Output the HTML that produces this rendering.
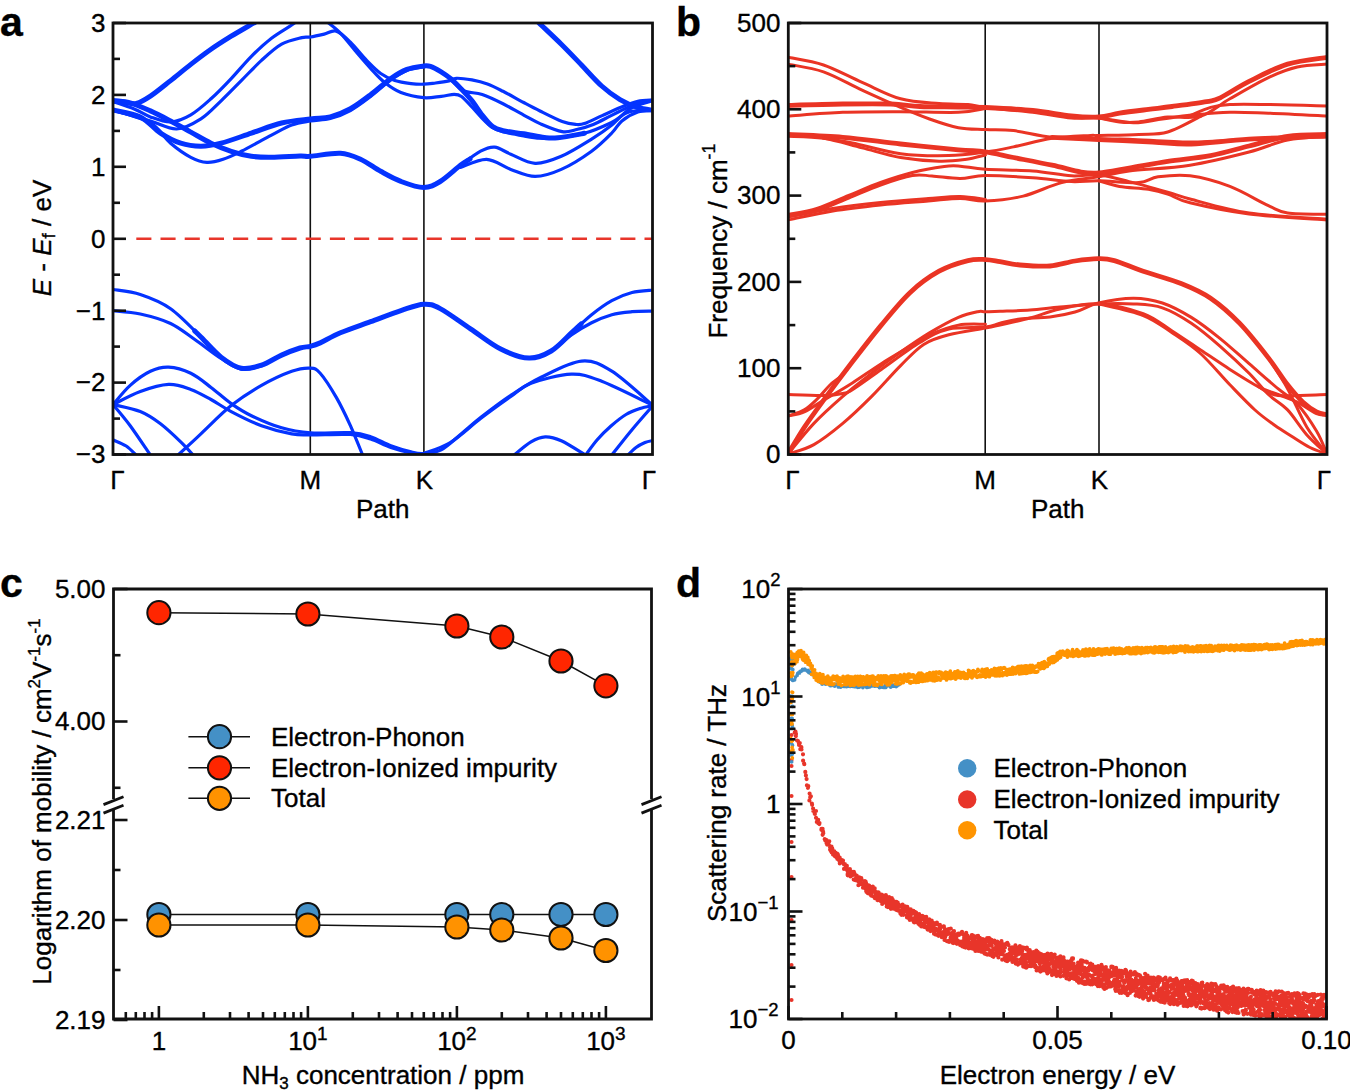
<!DOCTYPE html><html><head><meta charset="utf-8"><style>html,body{margin:0;padding:0;background:#fff}svg{display:block}text{font-family:"Liberation Sans",sans-serif;fill:#000;stroke:#000;stroke-width:0.35px}</style></head><body>
<svg width="1350" height="1090" viewBox="0 0 1350 1090">
<rect width="1350" height="1090" fill="#fff"/>
<clipPath id="ca"><rect x="113" y="23" width="539.5" height="431.5"/></clipPath>
<line x1="310.3" y1="23" x2="310.3" y2="454.5" stroke="#111" stroke-width="1.6"/>
<line x1="423.9" y1="23" x2="423.9" y2="454.5" stroke="#111" stroke-width="1.6"/>
<line x1="136.3" y1="238.8" x2="652.5" y2="238.8" stroke="#e8352a" stroke-width="2.6" stroke-dasharray="15.1,9.1"/>
<g clip-path="url(#ca)" fill="none" stroke="#0433ff" stroke-linecap="round" stroke-linejoin="round">
<path d="M113 100.8 C114.8 101 120.1 101.5 124 102 C127.9 102.5 131.9 104.5 136.3 103.5 C140.7 102.5 144.7 100 150.4 96.2 C156.1 92.4 163.9 85.9 170.6 80.6 C177.3 75.3 184.1 69.6 190.8 64.4 C197.5 59.2 204.3 54 211 49.3 C217.7 44.6 223.8 40.8 231.2 36.2 C238.6 31.7 251.4 24.4 255.4 22" stroke-width="5.0"/>
<path d="M113 101.5 C116.5 102.7 128 106.3 134.2 108.9 C140.4 111.5 144.3 114.7 150.4 116.9 C156.5 119.1 163.9 122.3 170.6 122 C177.3 121.7 184.1 118.8 190.8 114.9 C197.5 111 204.3 104.8 211 98.8 C217.7 92.8 224.5 85.7 231.2 78.6 C237.9 71.5 244.7 63 251.4 56.3 C258.1 49.6 264.8 43.4 271.5 38.2 C278.2 33 287.4 27.9 291.7 25 C295.9 22.1 296.1 21.7 297 21" stroke-width="3.2"/>
<path d="M113 110 C119.2 111.8 139.8 117.8 150.4 121 C161 124.2 168.2 129.3 176.6 129 C185 128.7 193.5 123.6 200.9 118.9 C208.3 114.2 214.4 107.2 221.1 100.8 C227.8 94.4 234.6 87.3 241.3 80.6 C248 73.9 254.8 66.5 261.5 60.4 C268.2 54.3 274.9 48 281.6 44.2 C288.3 40.4 297 38.8 301.8 37.6 C306.6 36.4 306.8 37.6 310.5 37 C314.2 36.4 319.9 35.1 324.2 34.1 C328.5 33.1 331.9 29.8 336.3 31.1 C340.7 32.5 345.3 37.3 350.4 42.2 C355.4 47.1 361.6 55.2 366.6 60.4 C371.7 65.6 376 70.2 380.7 73.5 C385.4 76.8 389.8 78.8 394.8 80.5 C399.9 82.2 406.2 83 411 83.6 C415.8 84.2 419.6 84.3 423.7 84.2 C427.8 84.1 431.4 83.5 435.6 83 C439.8 82.5 445.6 81.7 449 80.9 C452.4 80.1 452.5 78.5 456.3 78.3 C460.1 78.1 466.7 79 471.9 79.9 C477.1 80.9 482.2 82.1 487.4 84 C492.6 85.9 496.9 88.2 503 91.3 C509.1 94.4 517.5 99.2 523.7 102.5 C529.9 105.8 533.6 107.8 540 111 C546.4 114.2 556.3 119.3 562.2 121.5 C568.1 123.7 571.9 124.1 575.6 124.4 C579.3 124.8 580 125.1 584.4 123.6 C588.8 122.1 595.5 118.6 602.2 115.6 C608.9 112.6 618.5 108.2 624.4 105.8 C630.3 103.4 633 102.3 637.8 101.3 C642.6 100.3 650.5 100.2 653 100" stroke-width="3.2"/>
<path d="M326 21 C328.4 23 335.3 27.9 340.4 33.1 C345.5 38.3 351.5 46.4 356.5 52.3 C361.5 58.2 365.9 63.4 370.6 68.4 C375.3 73.5 379.6 78.6 384.7 82.6 C389.8 86.6 394.4 90.1 400.9 92.6 C407.4 95.1 417 97.1 423.7 97.7 C430.4 98.3 436.1 96.8 441.2 96.3 C446.3 95.8 450.8 94.4 454.2 94.4 C457.6 94.4 458.6 94.4 461.5 96.5 C464.4 98.6 468.4 103.3 471.9 106.9 C475.3 110.5 478.8 114.8 482.2 118.3 C485.6 121.8 489.1 125.4 492.6 127.6 C496.1 129.8 497.8 130.3 503 131.7 C508.2 133.1 517.5 134.8 523.7 135.9 C529.9 137 534.3 137.9 540 138.2 C545.7 138.5 550.4 138.6 557.8 137.8 C565.2 137 575.5 135.8 584.4 133.3 C593.3 130.8 603.7 126.2 611.1 122.7 C618.5 119.2 621.9 114.2 628.9 112 C635.9 109.8 649 110.2 653 109.8" stroke-width="3.2"/>
<path d="M113 100.8 C115.9 101.1 124 101.1 130.2 102.8 C136.4 104.5 143.7 107.9 150.4 110.9 C157.1 113.9 163.9 117.5 170.6 121 C177.3 124.5 184.1 128.4 190.8 132.1 C197.5 135.8 204.3 140 211 143.2 C217.7 146.4 224.5 149.1 231.2 151.3 C237.9 153.5 244.7 155.3 251.4 156.3 C258.1 157.3 263.4 157.4 271.5 157.3 C279.6 157.2 293.5 156.2 300 156 C306.5 155.8 303.8 156.8 310.5 156.3 C317.2 155.8 332.1 152.7 340.4 153.2 C348.7 153.7 353.8 156.2 360.5 159.2 C367.2 162.2 374 167.6 380.7 171.3 C387.4 175 393.7 178.7 400.9 181.4 C408.1 184.1 417.1 187.5 423.7 187.5 C430.2 187.5 434.1 185.2 440.2 181.5 C446.3 177.8 455.4 169.1 460.4 165.3 C465.4 161.6 468.4 160.1 470 159" stroke-width="5.0"/>
<path d="M460.4 165.3 C463.8 163 474.9 154.2 480.6 151.2 C486.3 148.2 489.7 146.7 494.7 147.2 C499.7 147.7 504.1 151.5 510.8 154.2 C517.5 156.9 526.7 163 535.1 163.3 C543.5 163.7 551.9 160.3 561.3 156.3 C570.7 152.3 583.2 144.3 591.6 139.1 C600 133.9 605.4 130.1 611.8 125 C618.2 120 623 112.9 629.9 108.8 C636.8 104.7 649.1 101.9 653 100.5" stroke-width="3.2"/>
<path d="M460.4 167.4 C464.8 166.1 478.2 159 486.6 159.3 C495 159.6 502.7 166.6 510.8 169.4 C518.9 172.2 526.7 176.4 535.1 176.4 C543.5 176.4 551.9 173.6 561.3 169.4 C570.7 165.2 583.2 157.3 591.6 151.2 C600 145.1 606.8 138.1 611.8 133 C616.8 128 617.6 124.4 621.9 120.9 C626.2 117.4 632.6 113.7 637.8 112 C643 110.3 650.5 110.8 653 110.5" stroke-width="3.2"/>
<path d="M113 110 C117.5 111.2 132.4 113.1 140.3 116.9 C148.2 120.8 153.8 128.7 160.5 133.1 C167.2 137.5 174 141 180.7 143.2 C187.4 145.4 194.2 146.2 200.9 146.2 C207.6 146.2 212.7 145.4 221.1 143.2 C229.5 141 241.3 136.5 251.4 133.1 C261.5 129.7 271.8 125.4 281.6 123 C291.5 120.6 302.4 119.9 310.5 118.9 C318.6 117.9 323.7 118.6 330.3 116.9 C336.9 115.2 343.7 112.5 350.4 108.8 C357.1 105.1 363.9 99.8 370.6 94.7 C377.3 89.7 384.8 82.7 390.8 78.5 C396.9 74.3 401.4 71.5 406.9 69.4 C412.4 67.3 419.8 66.5 423.7 66 C427.6 65.5 427.6 65.5 430.4 66.4 C433.2 67.3 437.2 69.5 440.7 71.6 C444.1 73.7 447.6 76 451.1 78.9 C454.6 81.8 458 85.6 461.5 89.2 C465 92.8 468.4 96.3 471.9 100.6 C475.3 104.9 478.8 110.8 482.2 115.1 C485.6 119.4 489.1 124 492.6 126.6 C496.1 129.2 497.8 129.5 503 130.7 C508.2 131.9 516.8 132.7 523.7 133.8 C530.6 134.9 538.7 136.8 544.4 137.5 C550.1 138.2 551.1 138.5 557.8 137.8 C564.5 137.1 580 134.1 584.4 133.3" stroke-width="5.0"/>
<path d="M113 110 C119.2 112.2 140.8 117.5 150.4 123 C160 128.5 163.9 137.5 170.6 143.2 C177.3 148.9 184.8 154.1 190.8 157.3 C196.9 160.5 201.5 162.1 206.9 162.4 C212.3 162.7 217.4 161.2 223.1 159.3 C228.8 157.5 233.2 155.3 241.3 151.3 C249.4 147.3 263.1 139.5 271.5 135.1 C279.9 130.7 285.2 127.3 291.7 125 C298.2 122.7 304.1 122.1 310.5 121 C316.9 119.9 323.7 120.2 330.3 118.5 C336.9 116.8 343.7 114.2 350.4 110.5 C357.1 106.8 363.9 101.6 370.6 96.5 C377.3 91.4 384.8 84.3 390.8 80 C396.9 75.7 401.4 72.7 406.9 70.5 C412.4 68.3 420.9 67.6 423.7 67" stroke-width="3.2"/>
<path d="M451 80 C453.1 81.8 458.4 88.4 463.6 90.8 C468.8 93.2 475.6 92.2 482.2 94.4 C488.8 96.6 496.1 100.2 503 103.7 C509.9 107.2 517.5 111.8 523.7 115.1 C529.9 118.4 533.6 120.8 540 123.6 C546.4 126.3 556.3 130.6 562.2 131.6 C568.1 132.6 570.4 131 575.6 129.8 C580.8 128.6 587.4 126.8 593.3 124.4 C599.2 122 605.2 118.5 611.1 115.6 C617 112.6 624.5 108.8 628.9 106.7 C633.3 104.6 633.8 104.2 637.8 103.1 C641.8 102 650.5 100.5 653 100" stroke-width="3.2"/>
<path d="M537 21 C541 24.9 553.9 36.9 561.3 44.2 C568.7 51.5 574.8 58 581.5 65 C588.2 72 595.3 80.2 601.7 86 C608.1 91.8 614 96 620 99.6 C626 103.2 632.3 105.7 637.8 107.5 C643.3 109.3 650.5 109.8 653 110.2" stroke-width="5.0"/>
<path d="M113 289.5 C117.5 290.3 130.7 291.3 140.3 294.5 C149.9 297.7 160.5 301.6 170.6 308.7 C180.7 315.8 194.2 330.5 200.9 336.9 C207.6 343.3 209.3 345.3 211 347" stroke-width="3.2"/>
<path d="M194.8 331 C195.8 332 196.5 332.5 200.9 336.9 C205.3 341.2 214.4 351.9 221.1 357.1 C227.8 362.3 234.6 366.9 241.3 368.2 C248 369.5 254.8 367.4 261.5 365.2 C268.2 363 275.2 358 281.6 355.1 C288 352.2 295.2 349.5 300 348 C304.8 346.5 307.1 347.2 310.5 346.3 C313.9 345.4 315.2 345.1 320.2 342.9 C325.2 340.6 332 336.3 340.4 332.8 C348.8 329.3 360.5 325.4 370.6 321.7 C380.7 318 392 313.5 400.9 310.6 C409.8 307.7 417.1 304.5 423.7 304.2 C430.2 303.9 432.4 304.5 440.2 308.6 C448 312.7 460.4 322.1 470.5 328.8 C480.6 335.5 490.9 344.1 500.7 349 C510.4 353.9 520.6 357.8 529 358.1 C537.4 358.4 544.1 355.2 551.2 351 C558.3 346.8 566.4 337.4 571.4 332.9 C576.4 328.4 579.4 325.5 581 324" stroke-width="5.0"/>
<path d="M571.4 332.9 C574.8 329.9 584.9 320.1 591.6 314.7 C598.3 309.3 605.1 304.3 611.8 300.6 C618.5 296.9 625.1 294.3 632 292.5 C638.9 290.7 649.5 290.4 653 290" stroke-width="3.2"/>
<path d="M113 310.7 C117.5 311.2 130.7 311.9 140.3 314 C149.9 316.1 161.5 319.2 170.6 323.5 C179.7 327.8 186.4 333.7 194.8 339.5 C203.2 345.3 213.3 353.6 221.1 358.5 C228.8 363.4 234.6 367.9 241.3 369.2 C248 370.4 258.1 366.5 261.5 366" stroke-width="3.2"/>
<path d="M561.4 343 C563.1 341.6 566.4 338.3 571.4 334.9 C576.4 331.5 584.9 326.2 591.6 322.8 C598.3 319.4 605.1 316.6 611.8 314.7 C618.5 312.8 625.1 312.3 632 311.7 C638.9 311.1 649.5 311.2 653 311.1" stroke-width="3.2"/>
<path d="M113 404.6 C115.9 401.4 124 390.9 130.2 385.4 C136.4 379.8 144 374.3 150.4 371.3 C156.8 368.3 161.9 366.9 168.6 367.2 C175.3 367.5 183.7 369.9 190.8 373.3 C197.9 376.7 204.3 382.3 211 387.4 C217.7 392.4 224.5 398.9 231.2 403.6 C237.9 408.3 243 411.7 251.4 415.7 C259.8 419.7 271.8 424.9 281.6 427.8 C291.5 430.7 299 432 310.5 432.8 C322 433.6 340.4 432.1 350.4 432.7 C360.4 433.3 363.9 434.5 370.6 436.7 C377.3 438.9 384.1 443.3 390.8 445.8 C397.5 448.3 405.5 450.6 411 451.9 C416.5 453.2 418.7 453.9 423.7 453.5 C428.7 453.1 434.9 453.1 441.2 449.8 C447.5 446.5 454.8 439.1 461.4 433.7 C468 428.3 472.4 424 480.6 417.6 C488.8 411.2 500.7 402.1 510.8 395.4 C520.9 388.7 529.3 383 541.1 377.3 C552.9 371.6 569.7 362.1 581.5 361.1 C593.3 360.1 599.9 363.8 611.8 371.2 C623.7 378.6 646.1 399.8 653 405.5" stroke-width="3.2"/>
<path d="M113 404.6 C117.5 402.4 131 394.9 140.3 391.5 C149.6 388.1 160.2 384.8 168.6 384.4 C177 384 183.7 386.9 190.8 389.4 C197.9 391.9 204.3 395.8 211 399.5 C217.7 403.2 222.8 407.2 231.2 411.6 C239.6 416 251.4 422.1 261.5 425.8 C271.6 429.5 283.5 432.4 291.7 433.9 C299.9 435.4 300.7 434.8 310.5 434.9 C320.3 435 340.4 433.8 350.4 434.5 C360.4 435.2 363.9 436.8 370.6 439 C377.3 441.2 384.1 445.2 390.8 447.5 C397.5 449.8 405.5 451.8 411 453 C416.5 454.2 421.6 454.7 423.7 455" stroke-width="3.2"/>
<path d="M423.7 453.5 C428.1 451.7 440.8 448.3 450.3 442.5 C459.8 436.7 470.5 426.2 480.6 418.5 C490.7 410.8 502.4 402.4 510.8 396.5 C519.2 390.6 520.9 387 531 383.3 C541.1 379.6 559.6 374.5 571.4 374.2 C583.2 373.9 588.1 376.1 601.7 381.3 C615.3 386.5 644.5 401.5 653 405.5" stroke-width="3.2"/>
<path d="M177 456 C181 452.3 191.9 442.3 200.9 433.9 C209.9 425.5 221.1 413.7 231.2 405.6 C241.3 397.5 251.4 391.1 261.5 385.4 C271.6 379.7 283.6 374.2 291.7 371.3 C299.8 368.4 305.4 367.8 310.1 368.1 C314.9 368.4 315.8 368.3 320.2 373.2 C324.6 378.1 331.3 388.7 336.3 397.4 C341.3 406.1 345.9 415.8 350.4 425.6 C354.8 435.4 360.9 450.9 363 456" stroke-width="3.2"/>
<path d="M113 404.6 C117.5 405.8 132.4 408.4 140.3 411.6 C148.2 414.8 153.8 418.8 160.5 423.8 C167.2 428.9 175.1 436.5 180.7 441.9 C186.3 447.3 191.8 453.6 194 456" stroke-width="3.2"/>
<path d="M113 404.6 C115.9 408.1 123.9 417.2 130.2 425.8 C136.5 434.4 147.5 451 151 456" stroke-width="3.2"/>
<path d="M113 439.9 C115.2 440.9 122.2 443.3 126.2 446 C130.2 448.7 135.2 454.3 137 456" stroke-width="3.2"/>
<path d="M585 456 C587 453.3 592.7 445 597 440 C601.3 435 606.2 430.2 611 426 C615.8 421.8 621.2 417.4 626 414.5 C630.8 411.6 635.5 410 640 408.5 C644.5 407 650.8 406 653 405.5" stroke-width="3.2"/>
<path d="M611 456 C614.5 451.6 625 438.1 632 429.7 C639 421.3 649.5 409.5 653 405.5" stroke-width="3.2"/>
<path d="M627 456 C628.5 454.6 633 449.8 636 447.5 C639 445.2 642.2 443.7 645 442.5 C647.8 441.3 651.7 440.8 653 440.5" stroke-width="3.2"/>
<path d="M513 456 C516 453.6 525.6 445.1 531 441.9 C536.4 438.7 540.2 437 545.2 436.8 C550.2 436.6 554.3 437.6 561.3 440.8 C568.3 444 582.7 453.5 587 456" stroke-width="3.2"/>
</g>
<rect x="113" y="23" width="539.5" height="431.5" fill="none" stroke="#111" stroke-width="2.8"/>
<line x1="113" y1="454.5" x2="126" y2="454.5" stroke="#111" stroke-width="2.6"/>
<text x="105.5" y="463.3" font-size="26" text-anchor="end">&#8722;3</text>
<line x1="113" y1="382.6" x2="126" y2="382.6" stroke="#111" stroke-width="2.6"/>
<text x="105.5" y="391.4" font-size="26" text-anchor="end">&#8722;2</text>
<line x1="113" y1="310.7" x2="126" y2="310.7" stroke="#111" stroke-width="2.6"/>
<text x="105.5" y="319.5" font-size="26" text-anchor="end">&#8722;1</text>
<line x1="113" y1="238.8" x2="126" y2="238.8" stroke="#111" stroke-width="2.6"/>
<text x="105.5" y="247.6" font-size="26" text-anchor="end">0</text>
<line x1="113" y1="166.8" x2="126" y2="166.8" stroke="#111" stroke-width="2.6"/>
<text x="105.5" y="175.6" font-size="26" text-anchor="end">1</text>
<line x1="113" y1="94.9" x2="126" y2="94.9" stroke="#111" stroke-width="2.6"/>
<text x="105.5" y="103.7" font-size="26" text-anchor="end">2</text>
<line x1="113" y1="23" x2="126" y2="23" stroke="#111" stroke-width="2.6"/>
<text x="105.5" y="31.8" font-size="26" text-anchor="end">3</text>
<line x1="113" y1="418.6" x2="120" y2="418.6" stroke="#111" stroke-width="2.6"/>
<line x1="113" y1="346.6" x2="120" y2="346.6" stroke="#111" stroke-width="2.6"/>
<line x1="113" y1="274.7" x2="120" y2="274.7" stroke="#111" stroke-width="2.6"/>
<line x1="113" y1="202.8" x2="120" y2="202.8" stroke="#111" stroke-width="2.6"/>
<line x1="113" y1="130.9" x2="120" y2="130.9" stroke="#111" stroke-width="2.6"/>
<line x1="113" y1="58.9" x2="120" y2="58.9" stroke="#111" stroke-width="2.6"/>
<text x="117.5" y="488.7" font-size="26" text-anchor="middle">&#915;</text>
<text x="310.3" y="488.7" font-size="26" text-anchor="middle">M</text>
<text x="424.5" y="488.7" font-size="26" text-anchor="middle">K</text>
<text x="649" y="488.7" font-size="26" text-anchor="middle">&#915;</text>
<text x="382.7" y="518" font-size="26" text-anchor="middle">Path</text>
<text transform="translate(50.5,238) rotate(-90)" font-size="26" text-anchor="middle"><tspan font-style="italic">E</tspan> - <tspan font-style="italic">E</tspan><tspan font-size="19" dy="4">f</tspan><tspan dy="-4"> / eV</tspan></text>
<text x="0" y="36" font-size="41" text-anchor="start" font-weight="bold">a</text>
<clipPath id="cb"><rect x="788.3" y="23" width="538.7" height="431.5"/></clipPath>
<line x1="985.2" y1="23" x2="985.2" y2="454.5" stroke="#111" stroke-width="1.6"/>
<line x1="1099" y1="23" x2="1099" y2="454.5" stroke="#111" stroke-width="1.6"/>
<g clip-path="url(#cb)" fill="none" stroke="#ea3424" stroke-linecap="round" stroke-linejoin="round">
<path d="M788 57.3 C793.9 58.6 811.1 60.8 823.5 65 C835.9 69.2 849.2 76.8 862.1 82.4 C875 88 887.8 95.3 900.6 98.8 C913.4 102.3 927.9 102.6 939.1 103.6 C950.3 104.5 960.3 103.8 968 104.5 C975.7 105.2 974.6 106.2 985.4 107.5 C996.2 108.8 1018.5 110.5 1032.8 112.3 C1047.1 114 1060.3 117 1071.3 118 C1082.3 119 1088.5 117.2 1098.9 118 C1109.3 118.8 1122.9 122.6 1133.5 122.8 C1144.1 123 1152.8 120.3 1162.4 119 C1172 117.7 1180 116.2 1191.3 115.1 C1202.5 114 1217.1 112.5 1229.9 112.2 C1242.8 111.9 1252.2 112.6 1268.4 113.2 C1284.6 113.8 1317.2 115.6 1327 116.1" stroke-width="3.0"/>
<path d="M788 64.1 C793.9 65.4 811.1 67.5 823.5 71.8 C835.9 76.1 849.2 84.2 862.1 90.1 C875 96 889.4 102.6 900.6 107.4 C911.8 112.2 919.9 115.6 929.5 119 C939.1 122.4 949.1 125.9 958.4 127.7 C967.7 129.5 976.2 129.1 985.4 129.6 C994.6 130.1 1002.4 129.3 1013.5 130.6 C1024.6 131.9 1037.9 135.9 1052.1 137.3 C1066.3 138.7 1086.1 138.9 1098.9 139.2 C1111.7 139.5 1113.9 138.7 1129.1 139.2 C1144.3 139.7 1170 142.1 1190 142.1 C1210 142.1 1226.3 140.5 1249.1 139.2 C1271.9 137.9 1314 135.2 1327 134.4" stroke-width="3.0"/>
<path d="M788 105.5 C797.1 105.2 825.6 104.2 842.8 104 C860 103.8 878.1 103.6 891 104 C903.9 104.4 908.7 106 919.9 106.5 C931.1 107 947.5 106.8 958.4 107 C969.3 107.2 973 106.9 985.4 107.5 C997.8 108.1 1018.5 109.1 1032.8 110.5 C1047.1 111.9 1060.3 114.9 1071.3 116 C1082.3 117.1 1090.9 117.5 1098.9 117 C1106.9 116.5 1111.2 114.5 1119.5 113.2 C1127.8 111.9 1139.6 110.5 1148.4 109.4 C1157.2 108.3 1162.4 107.8 1172.1 106.5 C1181.8 105.2 1198.7 103 1206.7 101.6 C1214.7 100.1 1213.1 101.2 1220.2 97.8 C1227.3 94.4 1237.9 87 1249.1 81.4 C1260.3 75.8 1274.6 68.1 1287.6 64.1 C1300.6 60.1 1320.4 58.4 1327 57.3" stroke-width="4.8"/>
<path d="M788 116.1 C797.1 115.5 824 113 842.8 112.3 C861.6 111.6 881.3 111.7 900.6 111.7 C919.9 111.7 944.3 112.8 958.4 112.3 C972.5 111.8 980.9 109.1 985.4 108.4" stroke-width="3.0"/>
<path d="M1098.9 118 C1102.3 118.7 1112.8 121.2 1119.5 121.9 C1126.2 122.6 1130.8 122.7 1138.8 121.9 C1146.8 121.1 1157.3 118.1 1167.7 117.1 C1178.1 116.1 1190.6 119.1 1201 116.1 C1211.4 113 1218.7 105.2 1229.9 98.8 C1241.1 92.4 1257.2 82.9 1268.4 77.6 C1279.6 72.3 1287.5 69.2 1297.3 67 C1307.1 64.8 1322 64.6 1327 64.1" stroke-width="3.0"/>
<path d="M1191.3 115.1 C1194.5 113.8 1204.2 109.2 1210.6 107.4 C1217 105.6 1220.3 105 1229.9 104.5 C1239.5 104 1252.2 104.3 1268.4 104.5 C1284.6 104.7 1317.2 105.7 1327 105.9" stroke-width="3.0"/>
<path d="M788 134.4 C797.1 134.9 824 135.7 842.8 137.3 C861.6 138.9 881.3 141.9 900.6 144 C919.9 146.1 944.3 148.5 958.4 149.8 C972.5 151.1 976.2 150.5 985.4 151.8 C994.6 153.1 1002.4 155.3 1013.5 157.5 C1024.6 159.7 1040.8 162.8 1052.1 165.2 C1063.3 167.6 1073.2 170.7 1081 172 C1088.8 173.3 1090.9 173.6 1098.9 172.9 C1106.9 172.2 1117.6 170 1129.1 168.1 C1140.6 166.2 1154.1 163.5 1167.7 161.4 C1181.3 159.3 1197 158.2 1210.6 155.6 C1224.2 153 1236.3 149.2 1249.1 146 C1261.9 142.8 1274.6 138.2 1287.6 136.3 C1300.6 134.4 1320.4 134.7 1327 134.4" stroke-width="4.8"/>
<path d="M788 136.3 C793.9 136.6 811.1 136.4 823.5 138.3 C835.9 140.2 849.2 144.7 862.1 147.9 C875 151.1 887.8 155.3 900.6 157.5 C913.4 159.7 928.4 160.9 939.1 161.2 C949.8 161.5 957.3 160.5 965 159.5 C972.7 158.5 982 155.8 985.4 155" stroke-width="3.0"/>
<path d="M823.5 138.3 C828.3 139.1 839.5 140.4 852.4 143 C865.2 145.6 884.5 151.6 900.6 153.7 C916.7 155.8 934.7 155.9 948.8 155.6 C962.9 155.3 974.6 153.4 985.4 152 C996.2 150.6 1002.4 149.2 1013.5 146.9 C1024.6 144.6 1039.2 140.2 1052.1 138.3 C1064.9 136.4 1082.8 135.9 1090.6 135.4 C1098.4 134.9 1090.9 135.6 1098.9 135.4 C1106.9 135.2 1127.3 135 1138.8 134.4 C1150.3 133.8 1157.3 135.1 1167.7 132 C1178.1 128.9 1195.5 118.8 1201 116.1" stroke-width="3.0"/>
<path d="M1052.1 137.3 C1059.9 137.7 1082.1 138.7 1098.9 139.5 C1115.7 140.3 1137.4 141.3 1152.8 142.1 C1168.2 142.8 1175.2 144.5 1191.3 144 C1207.3 143.5 1226.5 140.5 1249.1 139.2 C1271.7 137.9 1314 136.5 1327 136" stroke-width="4.8"/>
<path d="M788 214.5 C792.8 213.5 806.8 211.7 816.9 208.5 C827 205.3 838.1 199.8 848.7 195.5 C859.3 191.2 870 186.3 880.6 182.5 C891.2 178.7 901.8 175.2 912.4 172.5 C923 169.8 936.3 167.6 944.3 166.5 C952.3 165.4 953.4 165.7 960.2 166.2 C967.1 166.7 973.3 168.5 985.4 169.3 C997.5 170.1 1018.5 169.9 1032.8 171 C1047.1 172.1 1060.3 175.2 1071.3 175.8 C1082.3 176.5 1089.3 173.9 1098.9 174.9 C1108.5 175.9 1117.6 178.7 1129.1 181.6 C1140.6 184.5 1157.5 189.3 1167.7 192.2 C1177.9 195.1 1176.4 195.5 1190 199 C1203.6 202.5 1226.3 209.6 1249.1 213 C1271.9 216.4 1314 218.2 1327 219.2" stroke-width="3.0"/>
<path d="M788 216.8 C792.8 215.8 806.8 213.9 816.9 210.8 C827 207.7 838.1 202.3 848.7 198 C859.3 193.7 870 188.8 880.6 185 C891.2 181.2 903.8 177 912.4 175.5 C921 174 924 175.5 932 176 C940 176.5 951.3 178.6 960.2 178.5 C969.1 178.4 973.3 175.6 985.4 175.5 C997.5 175.4 1018.5 176.8 1032.8 177.8 C1047.1 178.8 1060.3 181.1 1071.3 181.6 C1082.3 182.1 1087.7 180.5 1098.9 180.7 C1110.2 180.9 1129 183.2 1138.8 182.6 C1148.6 181.9 1149.5 177.9 1158 176.8 C1166.5 175.7 1178 174.2 1190 175.8 C1202 177.4 1216.8 181.4 1229.9 186.4 C1243 191.4 1258.8 201.3 1268.4 205.7 C1278 210.1 1277.8 211.6 1287.6 213 C1297.4 214.4 1320.4 214.1 1327 214.3" stroke-width="3.0"/>
<path d="M788 220 C795.5 218.5 817.4 213.5 832.8 211 C848.2 208.5 864.7 206.7 880.6 205 C896.5 203.3 915 202.1 928.3 201 C941.6 199.9 950.7 198.5 960.2 198.5 C969.7 198.5 974.9 201.4 985.4 201 C995.9 200.6 1010.5 199.2 1023.2 196.1 C1035.9 193 1049.1 185.8 1061.7 182.6 C1074.3 179.4 1087.7 178.7 1098.9 176.8 C1110.1 174.9 1113.9 172.9 1129.1 171 C1144.3 169.1 1170 168.4 1190 165.2 C1210 162 1232.8 156.2 1249.1 152 C1265.4 147.8 1274.6 142.6 1287.6 140 C1300.6 137.4 1320.4 137.1 1327 136.5" stroke-width="3.0"/>
<path d="M788 217 C795.5 215.6 817.4 210.9 832.8 208.5 C848.2 206.1 864.7 204.2 880.6 202.5 C896.5 200.8 915 199.5 928.3 198.5 C941.6 197.5 950.7 196.3 960.2 196.5 C969.7 196.7 981.2 199 985.4 199.5" stroke-width="3.0"/>
<path d="M1098.9 180.7 C1102.3 181.6 1111.2 185 1119.5 186.4 C1127.8 187.8 1140.4 188 1148.4 189.3 C1156.4 190.6 1160.8 191.8 1167.7 194.1 C1174.6 196.3 1176.4 199.5 1190 202.8 C1203.6 206.1 1226.3 211.1 1249.1 214 C1271.9 216.9 1314 219.1 1327 220.1" stroke-width="3.0"/>
<path d="M788 454 C790.7 449.6 798.4 436.2 804.3 427.3 C810.2 418.4 815.5 411.2 823.5 400.3 C831.5 389.4 842.8 374.3 852.4 361.8 C862 349.3 871.7 336.7 881.3 325.1 C890.9 313.5 900.6 301.4 910.2 292.4 C919.8 283.4 929.5 276.5 939.1 271.2 C948.7 265.9 960.3 262.5 968 260.6 C975.7 258.7 980.1 259.4 985.4 259.6 C990.7 259.8 994.2 260.7 1000 261.6 C1005.8 262.5 1011.7 264.3 1020 265 C1028.3 265.7 1040.8 266.7 1050 266 C1059.2 265.3 1066.9 262.2 1075 261 C1083.1 259.8 1092 258.8 1098.5 258.7 C1105 258.6 1106.8 258.5 1114.3 260.6 C1121.8 262.7 1132 267.4 1143.2 271.2 C1154.4 275 1170.5 279.2 1181.7 283.7 C1192.9 288.2 1201 291.6 1210.6 298.2 C1220.2 304.8 1229.9 313.2 1239.5 323.2 C1249.1 333.1 1260.4 347.6 1268.4 357.9 C1276.4 368.2 1281.8 377.4 1287.6 384.8 C1293.4 392.2 1298.2 397.7 1303 402.2 C1307.8 406.7 1312.5 409.7 1316.5 411.8 C1320.5 413.9 1325.2 414.2 1327 414.7" stroke-width="4.8"/>
<path d="M789 415.7 C791.5 414.7 799.5 412.8 804.3 409.9 C809.1 407 813.5 402.5 817.8 398.4 C822.1 394.2 825.8 389 830 385 C834.2 381 839.1 378.5 842.8 374.6 C846.5 370.7 850.8 363.9 852.4 361.8" stroke-width="3.0"/>
<path d="M1268.4 357.9 C1271.6 363 1281.2 377.1 1287.6 388.7 C1294 400.2 1300.3 416.3 1306.9 427.2 C1313.5 438.1 1323.7 449.5 1327 454" stroke-width="3.0"/>
<path d="M788 394.5 C793.9 394.7 814.4 395.7 823.5 395.5 C832.6 395.3 838 394.5 842.8 393.5 C847.6 392.5 846 393.7 852.4 389.7 C858.8 385.7 870 377.4 881.3 369.5 C892.5 361.6 908.6 349.2 919.9 342.5 C931.1 335.8 937.9 331.6 948.8 329 C959.7 326.4 976.9 328.1 985.4 327.1 C993.9 326.1 994.2 324.6 1000 323.2 C1005.8 321.8 1011.7 320 1020 319 C1028.3 318 1040.8 318.2 1050 317 C1059.2 315.8 1066.9 314.3 1075 312 C1083.1 309.7 1088.8 305.3 1098.5 303 C1108.2 300.7 1122.8 298.2 1133.5 298.2 C1144.2 298.2 1152.8 299.8 1162.4 303 C1172 306.2 1181.7 311.5 1191.3 317.4 C1200.9 323.3 1210.6 330.9 1220.2 338.6 C1229.8 346.3 1239.5 355.4 1249.1 363.7 C1258.7 372 1270 382 1278 388.7 C1286 395.4 1290.9 397 1297.3 404.1 C1303.7 411.2 1311.5 422.8 1316.5 431.1 C1321.5 439.4 1325.2 450.2 1327 454" stroke-width="3.0"/>
<path d="M788 454 C792.3 448.9 804.8 433 813.9 423.4 C823 413.8 833.2 404.8 842.8 396.4 C852.4 388 862.1 380.7 871.7 373.3 C881.3 365.9 891 358.8 900.6 352.1 C910.2 345.4 919.9 338.7 929.5 332.9 C939.1 327.1 950.4 320.9 958.4 317.4 C966.4 313.9 973.2 312.6 977.7 311.7 C982.2 310.8 981.7 311.8 985.4 311.7 C989.1 311.6 992.6 311.6 1000 311.3 C1007.4 311 1020 310.7 1030 310 C1040 309.3 1048.6 308 1060 307 C1071.4 306 1086.2 304.4 1098.5 303.9 C1110.8 303.4 1122.8 303.2 1133.5 303.9 C1144.2 304.5 1152.8 304.6 1162.4 307.8 C1172 311 1181.7 316.8 1191.3 323.2 C1200.9 329.6 1210.6 337.9 1220.2 346.3 C1229.8 354.7 1241.1 365.3 1249.1 373.3 C1257.1 381.3 1262 388.4 1268.4 394.5 C1274.8 400.6 1281.2 403.2 1287.6 409.9 C1294 416.6 1300.3 427.5 1306.9 434.9 C1313.5 442.2 1323.7 450.8 1327 454" stroke-width="3.0"/>
<path d="M788 454 C792.3 452.4 804.8 449.7 813.9 444.6 C823 439.5 833.2 431.4 842.8 423.4 C852.4 415.4 862.1 406 871.7 396.4 C881.3 386.8 891.9 374.3 900.6 365.6 C909.3 356.9 915.7 349.5 923.7 344.4 C931.7 339.3 938.5 337.5 948.8 334.8 C959.1 332.1 976.9 329.6 985.4 328 C993.9 326.4 992.6 326.8 1000 325.1 C1007.4 323.4 1020 320.7 1030 318 C1040 315.3 1048.6 311.4 1060 309 C1071.4 306.6 1084.6 303.1 1098.5 303.9 C1112.4 304.7 1130.9 309.1 1143.2 313.6 C1155.5 318.1 1162.5 324.8 1172.1 330.9 C1181.7 337 1191.4 343.8 1201 350.2 C1210.6 356.6 1220.3 363.3 1229.9 369.4 C1239.5 375.5 1250.7 382.6 1258.7 386.8 C1266.7 391 1271.6 391.9 1278 394.5 C1284.4 397.1 1290.9 399 1297.3 402.2 C1303.7 405.4 1311.5 411.6 1316.5 413.7 C1321.5 415.8 1325.2 414.5 1327 414.7" stroke-width="3.0"/>
<path d="M789 415.7 C791.5 415.1 798.5 414.4 804.3 411.8 C810 409.2 815.5 405.1 823.5 400.3 C831.5 395.5 842.8 389 852.4 382.9 C862 376.8 871.7 369.8 881.3 363.7 C890.9 357.6 902.2 351.1 910.2 346.3 C918.2 341.5 921.5 338.3 929.5 334.8 C937.5 331.3 949.1 326.9 958.4 325.1 C967.7 323.3 980.9 324.4 985.4 324.2" stroke-width="3.0"/>
<path d="M1098.5 303.9 C1106 305.8 1130.9 310.7 1143.2 315.5 C1155.5 320.3 1162.5 326.4 1172.1 332.8 C1181.7 339.2 1191.4 345.3 1201 354 C1210.6 362.7 1220.9 375.5 1229.9 384.8 C1238.9 394.1 1247.5 403.2 1255 410 C1262.5 416.8 1268.8 421.1 1275 425.5 C1281.2 429.9 1286.2 432.8 1292 436.5 C1297.8 440.2 1304.2 444.6 1310 447.5 C1315.8 450.4 1324.2 452.9 1327 454" stroke-width="3.0"/>
<path d="M1258.7 386.8 C1261.9 388.2 1266.6 394.1 1278 395.4 C1289.4 396.7 1318.8 394.6 1327 394.5" stroke-width="3.0"/>
</g>
<rect x="788.3" y="23" width="538.7" height="431.5" fill="none" stroke="#111" stroke-width="2.8"/>
<line x1="788.3" y1="454.5" x2="801.3" y2="454.5" stroke="#111" stroke-width="2.6"/>
<text x="780.5" y="463.3" font-size="26" text-anchor="end">0</text>
<line x1="788.3" y1="368.2" x2="801.3" y2="368.2" stroke="#111" stroke-width="2.6"/>
<text x="780.5" y="377" font-size="26" text-anchor="end">100</text>
<line x1="788.3" y1="281.9" x2="801.3" y2="281.9" stroke="#111" stroke-width="2.6"/>
<text x="780.5" y="290.7" font-size="26" text-anchor="end">200</text>
<line x1="788.3" y1="195.6" x2="801.3" y2="195.6" stroke="#111" stroke-width="2.6"/>
<text x="780.5" y="204.4" font-size="26" text-anchor="end">300</text>
<line x1="788.3" y1="109.3" x2="801.3" y2="109.3" stroke="#111" stroke-width="2.6"/>
<text x="780.5" y="118.1" font-size="26" text-anchor="end">400</text>
<line x1="788.3" y1="23" x2="801.3" y2="23" stroke="#111" stroke-width="2.6"/>
<text x="780.5" y="31.8" font-size="26" text-anchor="end">500</text>
<line x1="788.3" y1="411.4" x2="795.3" y2="411.4" stroke="#111" stroke-width="2.6"/>
<line x1="788.3" y1="325.1" x2="795.3" y2="325.1" stroke="#111" stroke-width="2.6"/>
<line x1="788.3" y1="238.8" x2="795.3" y2="238.8" stroke="#111" stroke-width="2.6"/>
<line x1="788.3" y1="152.4" x2="795.3" y2="152.4" stroke="#111" stroke-width="2.6"/>
<line x1="788.3" y1="66.1" x2="795.3" y2="66.1" stroke="#111" stroke-width="2.6"/>
<text x="792.5" y="488.7" font-size="26" text-anchor="middle">&#915;</text>
<text x="985.2" y="488.7" font-size="26" text-anchor="middle">M</text>
<text x="1099.5" y="488.7" font-size="26" text-anchor="middle">K</text>
<text x="1324" y="488.7" font-size="26" text-anchor="middle">&#915;</text>
<text x="1057.7" y="518" font-size="26" text-anchor="middle">Path</text>
<text transform="translate(727,241) rotate(-90)" font-size="26" text-anchor="middle">Frequency / cm<tspan font-size="18" dy="-12">-1</tspan></text>
<text x="676" y="36" font-size="41" text-anchor="start" font-weight="bold">b</text>
<g stroke="#111" stroke-width="2.8" fill="none">
<path d="M113.5 799 V589 H651.5 V799"/>
<path d="M113.5 810 V1019 H651.5 V810"/>
</g>
<line x1="103.5" y1="804.6" x2="123.5" y2="796.8" stroke="#111" stroke-width="2.8"/>
<line x1="103.5" y1="813.1" x2="123.5" y2="805.3" stroke="#111" stroke-width="2.8"/>
<line x1="641.5" y1="804.6" x2="661.5" y2="796.8" stroke="#111" stroke-width="2.8"/>
<line x1="641.5" y1="813.1" x2="661.5" y2="805.3" stroke="#111" stroke-width="2.8"/>
<line x1="113.5" y1="589" x2="127.5" y2="589" stroke="#111" stroke-width="2.6"/>
<text x="105.5" y="597.8" font-size="26" text-anchor="end">5.00</text>
<line x1="113.5" y1="721.5" x2="127.5" y2="721.5" stroke="#111" stroke-width="2.6"/>
<text x="105.5" y="730.3" font-size="26" text-anchor="end">4.00</text>
<line x1="113.5" y1="655.2" x2="120.5" y2="655.2" stroke="#111" stroke-width="2.6"/>
<line x1="113.5" y1="787.8" x2="120.5" y2="787.8" stroke="#111" stroke-width="2.6"/>
<line x1="113.5" y1="820" x2="127.5" y2="820" stroke="#111" stroke-width="2.6"/>
<text x="105.5" y="828.8" font-size="26" text-anchor="end">2.21</text>
<line x1="113.5" y1="920" x2="127.5" y2="920" stroke="#111" stroke-width="2.6"/>
<text x="105.5" y="928.8" font-size="26" text-anchor="end">2.20</text>
<line x1="113.5" y1="1020" x2="127.5" y2="1020" stroke="#111" stroke-width="2.6"/>
<text x="105.5" y="1028.8" font-size="26" text-anchor="end">2.19</text>
<line x1="113.5" y1="870" x2="120.5" y2="870" stroke="#111" stroke-width="2.6"/>
<line x1="113.5" y1="970" x2="120.5" y2="970" stroke="#111" stroke-width="2.6"/>
<line x1="125.8" y1="1019" x2="125.8" y2="1012" stroke="#111" stroke-width="2.6"/>
<line x1="135.8" y1="1019" x2="135.8" y2="1012" stroke="#111" stroke-width="2.6"/>
<line x1="144.5" y1="1019" x2="144.5" y2="1012" stroke="#111" stroke-width="2.6"/>
<line x1="152.1" y1="1019" x2="152.1" y2="1012" stroke="#111" stroke-width="2.6"/>
<line x1="158.9" y1="1019" x2="158.9" y2="1006" stroke="#111" stroke-width="2.6"/>
<line x1="203.8" y1="1019" x2="203.8" y2="1012" stroke="#111" stroke-width="2.6"/>
<line x1="230" y1="1019" x2="230" y2="1012" stroke="#111" stroke-width="2.6"/>
<line x1="248.6" y1="1019" x2="248.6" y2="1012" stroke="#111" stroke-width="2.6"/>
<line x1="263" y1="1019" x2="263" y2="1012" stroke="#111" stroke-width="2.6"/>
<line x1="274.8" y1="1019" x2="274.8" y2="1012" stroke="#111" stroke-width="2.6"/>
<line x1="284.8" y1="1019" x2="284.8" y2="1012" stroke="#111" stroke-width="2.6"/>
<line x1="293.5" y1="1019" x2="293.5" y2="1012" stroke="#111" stroke-width="2.6"/>
<line x1="301.1" y1="1019" x2="301.1" y2="1012" stroke="#111" stroke-width="2.6"/>
<line x1="307.9" y1="1019" x2="307.9" y2="1006" stroke="#111" stroke-width="2.6"/>
<line x1="352.8" y1="1019" x2="352.8" y2="1012" stroke="#111" stroke-width="2.6"/>
<line x1="379" y1="1019" x2="379" y2="1012" stroke="#111" stroke-width="2.6"/>
<line x1="397.6" y1="1019" x2="397.6" y2="1012" stroke="#111" stroke-width="2.6"/>
<line x1="412" y1="1019" x2="412" y2="1012" stroke="#111" stroke-width="2.6"/>
<line x1="423.8" y1="1019" x2="423.8" y2="1012" stroke="#111" stroke-width="2.6"/>
<line x1="433.8" y1="1019" x2="433.8" y2="1012" stroke="#111" stroke-width="2.6"/>
<line x1="442.5" y1="1019" x2="442.5" y2="1012" stroke="#111" stroke-width="2.6"/>
<line x1="450.1" y1="1019" x2="450.1" y2="1012" stroke="#111" stroke-width="2.6"/>
<line x1="456.9" y1="1019" x2="456.9" y2="1006" stroke="#111" stroke-width="2.6"/>
<line x1="501.8" y1="1019" x2="501.8" y2="1012" stroke="#111" stroke-width="2.6"/>
<line x1="528" y1="1019" x2="528" y2="1012" stroke="#111" stroke-width="2.6"/>
<line x1="546.6" y1="1019" x2="546.6" y2="1012" stroke="#111" stroke-width="2.6"/>
<line x1="561" y1="1019" x2="561" y2="1012" stroke="#111" stroke-width="2.6"/>
<line x1="572.8" y1="1019" x2="572.8" y2="1012" stroke="#111" stroke-width="2.6"/>
<line x1="582.8" y1="1019" x2="582.8" y2="1012" stroke="#111" stroke-width="2.6"/>
<line x1="591.5" y1="1019" x2="591.5" y2="1012" stroke="#111" stroke-width="2.6"/>
<line x1="599.1" y1="1019" x2="599.1" y2="1012" stroke="#111" stroke-width="2.6"/>
<line x1="605.9" y1="1019" x2="605.9" y2="1006" stroke="#111" stroke-width="2.6"/>
<text x="158.9" y="1050.3" font-size="26" text-anchor="middle">1</text>
<text x="307.9" y="1050.3" font-size="26" text-anchor="middle">10<tspan font-size="19" dy="-10">1</tspan></text>
<text x="456.9" y="1050.3" font-size="26" text-anchor="middle">10<tspan font-size="19" dy="-10">2</tspan></text>
<text x="605.9" y="1050.3" font-size="26" text-anchor="middle">10<tspan font-size="19" dy="-10">3</tspan></text>
<text x="383" y="1084" font-size="26" text-anchor="middle">NH<tspan font-size="17" dy="5">3</tspan><tspan dy="-5"> concentration / ppm</tspan></text>
<text transform="translate(51,801.5) rotate(-90)" font-size="26" text-anchor="middle">Logarithm of mobility / cm<tspan font-size="17" dy="-11">2</tspan><tspan dy="11">V</tspan><tspan font-size="17" dy="-11">-1</tspan><tspan dy="11">s</tspan><tspan font-size="17" dy="-11">-1</tspan></text>
<text x="0" y="596.5" font-size="41" text-anchor="start" font-weight="bold">c</text>
<polyline points="158.9,612.7 307.9,614 456.9,626 501.8,637 561,661 605.9,685.8" fill="none" stroke="#111" stroke-width="1.5"/>
<circle cx="158.9" cy="612.7" r="11.6" fill="#ff2600" stroke="#111" stroke-width="2"/>
<circle cx="307.9" cy="614" r="11.6" fill="#ff2600" stroke="#111" stroke-width="2"/>
<circle cx="456.9" cy="626" r="11.6" fill="#ff2600" stroke="#111" stroke-width="2"/>
<circle cx="501.8" cy="637" r="11.6" fill="#ff2600" stroke="#111" stroke-width="2"/>
<circle cx="561" cy="661" r="11.6" fill="#ff2600" stroke="#111" stroke-width="2"/>
<circle cx="605.9" cy="685.8" r="11.6" fill="#ff2600" stroke="#111" stroke-width="2"/>
<polyline points="158.9,914.5 307.9,914.5 456.9,914.5 501.8,914.5 561,914.5 605.9,914.5" fill="none" stroke="#111" stroke-width="1.5"/>
<circle cx="158.9" cy="914.5" r="11.6" fill="#4490c6" stroke="#111" stroke-width="2"/>
<circle cx="307.9" cy="914.5" r="11.6" fill="#4490c6" stroke="#111" stroke-width="2"/>
<circle cx="456.9" cy="914.5" r="11.6" fill="#4490c6" stroke="#111" stroke-width="2"/>
<circle cx="501.8" cy="914.5" r="11.6" fill="#4490c6" stroke="#111" stroke-width="2"/>
<circle cx="561" cy="914.5" r="11.6" fill="#4490c6" stroke="#111" stroke-width="2"/>
<circle cx="605.9" cy="914.5" r="11.6" fill="#4490c6" stroke="#111" stroke-width="2"/>
<polyline points="158.9,925 307.9,925 456.9,927 501.8,930 561,938 605.9,950.5" fill="none" stroke="#111" stroke-width="1.5"/>
<circle cx="158.9" cy="925" r="11.6" fill="#ff9200" stroke="#111" stroke-width="2"/>
<circle cx="307.9" cy="925" r="11.6" fill="#ff9200" stroke="#111" stroke-width="2"/>
<circle cx="456.9" cy="927" r="11.6" fill="#ff9200" stroke="#111" stroke-width="2"/>
<circle cx="501.8" cy="930" r="11.6" fill="#ff9200" stroke="#111" stroke-width="2"/>
<circle cx="561" cy="938" r="11.6" fill="#ff9200" stroke="#111" stroke-width="2"/>
<circle cx="605.9" cy="950.5" r="11.6" fill="#ff9200" stroke="#111" stroke-width="2"/>
<line x1="188.4" y1="736.7" x2="250" y2="736.7" stroke="#111" stroke-width="1.5"/>
<circle cx="219.5" cy="736.7" r="11.6" fill="#4490c6" stroke="#111" stroke-width="2"/>
<text x="271" y="745.5" font-size="26" text-anchor="start">Electron-Phonon</text>
<line x1="188.4" y1="767.8" x2="250" y2="767.8" stroke="#111" stroke-width="1.5"/>
<circle cx="219.5" cy="767.8" r="11.6" fill="#ff2600" stroke="#111" stroke-width="2"/>
<text x="271" y="776.6" font-size="26" text-anchor="start">Electron-Ionized impurity</text>
<line x1="188.4" y1="798.3" x2="250" y2="798.3" stroke="#111" stroke-width="1.5"/>
<circle cx="219.5" cy="798.3" r="11.6" fill="#ff9200" stroke="#111" stroke-width="2"/>
<text x="271" y="807.1" font-size="26" text-anchor="start">Total</text>
<clipPath id="cd"><rect x="788.5" y="589" width="538.0" height="430"/></clipPath>
<g clip-path="url(#cd)">
<path d="M795.5 731.7h0M794.7 732.5h0M796 733.9h0M795.9 736.1h0M798 741.1h0M797.1 740.6h0M799 744.9h0M798.9 743.2h0M800.3 749.2h0M799.8 743.1h0M801.5 749.5h0M801.4 747.2h0M803 754.3h0M803.1 760.7h0M804.1 763.5h0M804.3 764.2h0M805.3 771.9h0M805.9 775.4h0M806.6 779.1h0M806.9 785.3h0M808.3 786.2h0M807.9 787.8h0M809.6 793.6h0M809.4 800.4h0M810.9 796.3h0M810.2 797.2h0M812.1 804.8h0M811.9 803.6h0M813.1 808.5h0M813.3 811h0M814.7 813.7h0M814.9 814h0M816 811h0M816 817.8h0M817 821.5h0M816.8 822h0M818.3 823.2h0M818.2 819.8h0M819.5 823.1h0M819.3 824.1h0M821.5 828.9h0M821.4 829.8h0M822.6 834.8h0M822.6 828.9h0M823.3 833.2h0M823.1 831.7h0M825.3 840.5h0M824.7 839.2h0M826.5 843.1h0M826.5 840.1h0M827.1 844.6h0M827.3 843h0M828.7 844.4h0M829.3 841.3h0M830.1 847.4h0M830.1 849.7h0M830.9 851h0M831.2 851.4h0M831.5 846.6h0M831.7 852.4h0M832.3 848.5h0M833 854.6h0M833.4 851.4h0M833.9 853.5h0M834.8 855.5h0M834.3 851.3h0M835 856.3h0M835.2 852.6h0M836.9 857.2h0M836.5 857.3h0M837.4 858.9h0M837.1 853.5h0M837.8 854.3h0M838.1 855.4h0M838.7 859.7h0M839.6 861.4h0M839.8 863.5h0M839.7 857.5h0M840.7 861.5h0M841.1 861.8h0M842 860h0M842.2 862.2h0M843 860.6h0M843 862.4h0M844 868.9h0M843.8 864.1h0M844 864.5h0M844.9 864.2h0M845.6 869h0M845.6 865.3h0M845.9 865.4h0M846.8 868h0M847.4 870.7h0M846.9 865.9h0M847.6 874.2h0M847.7 875.3h0M848.9 873.9h0M848.6 874.5h0M849.7 871.4h0M849.9 869h0M850.5 876.4h0M850.6 872.5h0M852 871.8h0M851.4 871.8h0M852.5 874.1h0M852.7 875.1h0M853.9 871.9h0M853.7 879.6h0M854.1 872.6h0M854.3 873.4h0M855.3 880.2h0M854.9 874.3h0M856.2 875.8h0M855.9 878.4h0M856.7 875.6h0M857 879.6h0M857.5 880.4h0M857.6 877.8h0M858.2 881.2h0M858.4 885.2h0M859.3 877.3h0M859.3 881.5h0M858.6 877.9h0M860.2 879h0M859.4 879.5h0M860.2 881.5h0M860.9 878.2h0M860.7 880.7h0M860.4 884.2h0M861.5 879.3h0M862.1 883.1h0M861.3 878.2h0M862.7 884.1h0M862 883.6h0M862.7 884.3h0M863.1 884.6h0M863.5 886.2h0M863 887.7h0M864.7 887.8h0M864.7 883.9h0M864.7 881.9h0M864.9 887h0M865.6 881.6h0M864.9 881.1h0M866 882.8h0M865.8 889.2h0M866.2 891.2h0M866.9 889.2h0M866.5 892h0M866.7 887h0M867.9 892.7h0M867.9 893.2h0M868 885h0M869.1 885.5h0M869.3 888.2h0M868.5 893.5h0M869.5 888.3h0M869.5 891.1h0M869.2 888h0M870.3 893.5h0M870.1 891.1h0M870.4 889.5h0M871.6 892.9h0M871.1 887.9h0M871.1 895.6h0M872 887.4h0M872.4 892.2h0M872.8 886.6h0M873 888.5h0M873.4 891.6h0M873.2 896.3h0M874.4 896.7h0M874.7 890.3h0M874.6 891.8h0M874.7 898.1h0M874.7 888.3h0M874.9 891.2h0M876.5 898.3h0M875.9 894.6h0M876.3 897.6h0M877.1 895.1h0M876.5 892.2h0M877.1 896h0M878.1 900.1h0M878.3 892.3h0M877.4 900.1h0M878.8 892.9h0M878.9 893.7h0M878.4 895h0M879.6 899.2h0M879.2 899.9h0M879.7 896.9h0M880.7 901.1h0M880 897.5h0M880.7 900.1h0M881.5 894.7h0M881.9 901.5h0M881.1 897.5h0M882.8 895.5h0M882.2 904h0M882.7 895.7h0M883.4 897.7h0M883.4 902.3h0M882.8 896.1h0M883.8 897.1h0M883.6 895.6h0M884 898.9h0M884.6 901.2h0M885.4 901.1h0M884.9 902.6h0M885.8 897h0M885.9 895.2h0M886.1 896.9h0M886.7 906.6h0M887.1 905.1h0M886.9 902.8h0M887.9 907.1h0M887.4 904.8h0M887.5 898.9h0M888.9 903.4h0M888.9 906.6h0M888.7 898.7h0M889 903.1h0M889.7 900.1h0M889.1 897h0M890.1 905.5h0M889.9 900.1h0M890.2 905.7h0M891.8 898.1h0M890.9 908.8h0M891.8 899.6h0M892 904.5h0M892 903.3h0M892.2 901.4h0M892.7 899.8h0M892.8 899.9h0M893.2 907h0M893.8 908.7h0M894.2 903.3h0M894 901.5h0M895.3 906.4h0M894.5 901.6h0M895.1 904.4h0M896 903h0M896.1 909.8h0M895.4 907.2h0M896.4 909.2h0M897 910.2h0M896.4 901.9h0M897.8 908h0M897.2 903.5h0M897.7 902.5h0M898.6 904.6h0M898.3 906.8h0M898.5 910.4h0M898.9 910.9h0M899.1 905.7h0M899.5 910.5h0M900.4 913.6h0M900 906.4h0M900.5 905.8h0M900.9 905.9h0M901.5 913.2h0M901.4 914.8h0M902.4 907.4h0M901.9 912.4h0M901.7 911h0M902.6 904.7h0M903 905.9h0M903.4 914.8h0M903.9 907h0M903.5 910.8h0M903.9 909h0M905 911.5h0M905.1 906.3h0M904.4 909.8h0M905.7 908.6h0M905.9 908.2h0M905.5 911.4h0M906.8 915.5h0M906.5 911.5h0M907 917.5h0M907.6 907.8h0M907.5 914.4h0M907.3 906.9h0M908.9 918.3h0M908 912.7h0M908.5 910.7h0M908.9 916.8h0M909.6 912.9h0M908.9 912.3h0M909.8 920h0M909.8 911.5h0M910.5 909.6h0M910.7 909.3h0M910.8 915.1h0M911.4 910.5h0M911.7 918.5h0M911.9 913.1h0M911.6 911.9h0M913.4 910.8h0M912.7 918.7h0M913.3 920.8h0M913.8 921.9h0M913.9 913.5h0M913.8 918.9h0M914.9 911.9h0M914.4 922.5h0M914.3 920.6h0M915.4 913.9h0M915.4 916.7h0M916.1 912.6h0M916.9 915.3h0M916.2 920.8h0M916.3 913.6h0M917.3 922.3h0M917.8 919.1h0M916.9 921.5h0M918.4 923.8h0M918.8 916.4h0M918.6 922.7h0M919 917.4h0M919.1 917.2h0M919.1 914.1h0M919.8 924.9h0M920 921.4h0M920.5 922.9h0M920.7 925.6h0M921.3 926.5h0M921.2 923.4h0M922.2 917.4h0M922.1 919h0M922.2 915.8h0M922.8 919h0M923.1 919.1h0M923.1 925.7h0M924.1 916.9h0M924.1 924.8h0M923.9 923.6h0M924.1 927h0M924.6 921.5h0M924.4 925.8h0M925.8 927.5h0M925.2 920.5h0M925.2 917.3h0M926.2 916.8h0M926.7 919.5h0M926 917.4h0M927.5 919.6h0M927.3 922.3h0M927.6 929.6h0M928 925.8h0M928.6 923.7h0M928.6 927.2h0M928.9 929.6h0M929.2 919.3h0M929.2 929h0M930 924.9h0M929.9 930.2h0M930.2 921.2h0M930.8 923.7h0M931.4 928.2h0M930.5 931.1h0M931.3 927.3h0M931.7 929h0M931.7 920.6h0M932.7 930.9h0M933 924.6h0M932.4 929.9h0M933.9 923.2h0M934 933.7h0M933.5 925.4h0M934.7 933.4h0M934.2 924.9h0M934.3 930.7h0M935.1 928.7h0M935.4 930.3h0M935 934.3h0M936.8 929.4h0M936.6 924.2h0M936.7 929.3h0M937.5 934.1h0M937.1 934.9h0M936.9 922.5h0M938.1 935h0M938.5 935.8h0M938.1 935.5h0M939.1 925.1h0M939.1 934.2h0M938.9 931.4h0M939.7 927.4h0M939.8 930.7h0M939.9 924.9h0M940.3 928.8h0M941 934.5h0M940.5 927.6h0M941.7 927h0M941.8 937.2h0M941.4 932.7h0M942.8 935.5h0M942.8 935h0M942.4 936.7h0M943.9 926.3h0M943.9 931.7h0M943.1 926.5h0M944.7 935.5h0M944 932.5h0M944.5 940h0M945.1 937.3h0M945 929.3h0M945 932.2h0M946.3 931.2h0M945.9 930h0M945.8 929.7h0M946.9 934.6h0M946.8 934.2h0M947 941.2h0M948 941.3h0M948 930.7h0M948.1 930h0M948.6 929.2h0M949.1 941.9h0M948.8 933.2h0M949.7 933.4h0M950 934h0M949.5 940.7h0M950.8 928.7h0M951 939.1h0M950.6 937.7h0M952 934.6h0M951.5 933.1h0M951.7 938.4h0M952.7 942.8h0M952.1 934.3h0M952.9 940.5h0M953.5 939.2h0M953.2 943.1h0M953.4 935.1h0M954 931.2h0M954.7 941.2h0M953.8 934.2h0M955.2 937h0M955.1 942.9h0M955 937.6h0M956.5 939.4h0M956.1 934.9h0M956 939h0M957.3 934h0M956.9 935.9h0M956.9 943.8h0M957.9 934.5h0M957.7 942.7h0M957.6 940.7h0M958.3 933.5h0M958.4 942.7h0M958.4 934h0M959.3 934.8h0M959.9 941.7h0M960.1 945.1h0M960.7 945.1h0M960.2 945.1h0M960.5 934h0M961.7 944.4h0M961.4 932.7h0M961.9 942.8h0M962.5 946.5h0M961.9 932.4h0M962 931.8h0M963.5 941.4h0M962.9 934.2h0M963 941.1h0M964.4 946.9h0M964.1 947.1h0M964.1 938h0M964 935.5h0M965.6 947.6h0M965.3 934.9h0M964.8 934.5h0M965 943.6h0M965.6 940.7h0M966.2 932.9h0M965.9 944.7h0M966.1 939.4h0M967.3 942h0M966.7 938.8h0M967.3 946.1h0M967.3 941.4h0M967.4 935.6h0M967.7 943.7h0M967.3 945.5h0M968.1 941h0M968.2 945.7h0M968.6 943.7h0M968.8 944.6h0M968.6 948.3h0M970.1 948.1h0M969.7 938.3h0M969.5 937.6h0M970 945.9h0M970.8 946.6h0M971 944.5h0M970.3 945.6h0M970.3 943.3h0M971.1 947.5h0M971.4 938.2h0M971.8 935.1h0M971.8 945.9h0M971.9 946.2h0M972.4 948.6h0M972.4 940.9h0M972.7 935.4h0M973.5 935.9h0M973 936h0M973.6 941.3h0M973.4 938.3h0M974.3 945h0M973.7 942.4h0M974.3 937.9h0M974.3 938.9h0M974.9 949.7h0M975.4 950.9h0M974.9 944h0M975.3 947h0M975.9 949h0M975.8 950.4h0M975.9 936.8h0M976.1 937.2h0M977 936h0M977.3 944h0M977 937.3h0M976.9 941.3h0M977.4 948.8h0M977.2 943.2h0M977.3 949.4h0M978.1 935.9h0M978.6 943.3h0M978.8 947.6h0M978.4 951h0M978.3 937.8h0M979.8 937.8h0M979.2 944.1h0M979.3 938.5h0M979.9 943.7h0M980.7 940.2h0M980.8 939.7h0M980.8 946.3h0M980.9 948.9h0M981.4 945.2h0M981.7 943.7h0M980.9 951.6h0M981.6 947.7h0M982.4 940.4h0M982.2 950.3h0M982.7 952h0M981.9 948h0M983.2 943.5h0M982.8 939h0M983.1 945h0M982.9 942.9h0M984.1 949.9h0M984.1 939.7h0M984.4 943.2h0M984.5 953.6h0M984.5 947.1h0M985.4 943.7h0M984.9 942.5h0M984.4 940.6h0M985.4 942.2h0M985.9 947h0M986.2 949.1h0M985.7 953.6h0M986.8 946.9h0M987.1 949.1h0M986.6 948h0M986.5 954.3h0M987.3 954.6h0M987.2 938h0M987.7 941.4h0M987.6 939.8h0M988.8 949.6h0M988.7 954.1h0M989 949.8h0M988.7 938h0M988.9 945.7h0M989.9 943.7h0M989.5 938.4h0M989.3 954h0M990.4 952.9h0M989.8 942h0M990 953h0M989.9 954.8h0M991 954.2h0M991.2 944.4h0M991.7 945.8h0M991.4 939.9h0M992.4 956.2h0M991.7 952.1h0M991.9 941.5h0M992 950.6h0M993.5 956.8h0M993.5 950.2h0M993.2 942h0M993.2 948.9h0M993.8 955.4h0M993.7 941.9h0M993.6 942h0M994 953.6h0M994.5 948.6h0M994.9 949.6h0M994.7 949.3h0M994.3 940.6h0M995.6 944.1h0M996 944.2h0M996 944.2h0M995.3 948.4h0M996.5 946.1h0M996.9 944h0M996.8 955.1h0M996.6 949.1h0M997.9 951.2h0M997.2 941.5h0M997.1 946.3h0M997.1 952h0M998.3 946.1h0M998.4 957.5h0M998.1 943.3h0M998.2 946.4h0M999.7 953.6h0M999.2 943.7h0M998.8 942.9h0M999.6 952.5h0M999.9 952.4h0M999.8 950.2h0M1000 942.8h0M1000.4 954.1h0M1001.1 944.3h0M1001.3 949.1h0M1001.3 942.8h0M1001.5 941.2h0M1001.7 948.7h0M1001.7 943h0M1002.2 959.7h0M1001.8 946.3h0M1003.1 945.7h0M1002.8 954.4h0M1002.8 944.5h0M1002.5 951.7h0M1004.3 958.9h0M1003.4 951.2h0M1003.8 945.4h0M1004 951h0M1005 947.5h0M1005.1 957.3h0M1004.7 944.7h0M1004.7 944.4h0M1005.8 955.3h0M1005.7 960.6h0M1005.1 955.7h0M1005.9 944.4h0M1006.3 943.5h0M1006.6 956.1h0M1006.3 955.6h0M1006.4 955.9h0M1007.2 961.2h0M1007.3 942.8h0M1007 956.4h0M1007.8 954.7h0M1008 959.5h0M1008.5 945.1h0M1008.2 955.7h0M1007.8 943.8h0M1009.1 959.8h0M1009.7 949.2h0M1009.6 958.1h0M1009.6 954.4h0M1010.6 955.7h0M1010.5 954.2h0M1009.8 953.3h0M1010.1 949.8h0M1010.9 953.4h0M1011.1 947.9h0M1010.8 953.3h0M1011 951.7h0M1012.1 947.4h0M1011.9 949.2h0M1012.2 957.4h0M1012.2 953.8h0M1012.5 961.9h0M1012.8 951.3h0M1012.6 951.8h0M1013 959.9h0M1013.7 958.5h0M1013.4 953.1h0M1013.6 950.2h0M1013.6 958.9h0M1014.8 948.6h0M1014.3 959.8h0M1014.8 957.7h0M1014.7 958h0M1015.3 946h0M1015.4 945.4h0M1016 955h0M1015.7 963.6h0M1016.7 949.5h0M1016.2 947.1h0M1016.7 959.4h0M1016.4 952.2h0M1017.1 954.8h0M1017.5 962.8h0M1017.6 962.3h0M1017.2 953.5h0M1018 964.6h0M1017.9 948.5h0M1018 963.6h0M1018.6 952h0M1019.5 963.3h0M1019 949.5h0M1019.4 953.1h0M1018.7 963.5h0M1019.9 953.8h0M1020.1 951h0M1019.5 953.6h0M1019.9 946.1h0M1020.8 961.3h0M1020.7 959.6h0M1021 949.9h0M1020.4 959.5h0M1021.9 952.2h0M1021.5 963.4h0M1022.2 951h0M1021.9 957.8h0M1022.5 947.3h0M1022.5 959.5h0M1022.8 956.8h0M1022.3 950.8h0M1023.4 955.2h0M1023.5 965h0M1023.2 966.6h0M1023.3 964h0M1024.2 958.9h0M1024.4 947.8h0M1024.8 963.4h0M1024.3 962.7h0M1025.4 967.2h0M1025 954.9h0M1025.1 959.9h0M1025.7 964.3h0M1026.3 955.3h0M1026.6 949.6h0M1026.1 962.8h0M1026.2 967.7h0M1026.8 957.1h0M1026.9 947.7h0M1026.8 949.5h0M1027.1 956.5h0M1028.1 953.8h0M1028.3 958.5h0M1028.6 951.4h0M1028.1 958h0M1028.9 965.8h0M1028.7 966.2h0M1028.9 955h0M1029.1 959.7h0M1029.7 950.1h0M1030.4 956h0M1029.5 961.9h0M1029.9 955.1h0M1030.6 966.1h0M1030.6 957.2h0M1031.3 956.1h0M1030.7 951.9h0M1031.9 962.6h0M1031.6 957.2h0M1031.4 965.2h0M1031.7 966.1h0M1032.5 964.3h0M1032.1 953.6h0M1033.1 963.3h0M1032.8 959.4h0M1033.5 953.4h0M1033.2 962.8h0M1033.7 954.7h0M1033.6 952.1h0M1034.5 953.1h0M1034.4 956.1h0M1034.5 952.3h0M1034.4 962.4h0M1034 956h0M1035.5 961.2h0M1035.4 966.1h0M1035.4 954.4h0M1035.2 967.2h0M1035.4 965.6h0M1036.1 959.4h0M1036.7 967.3h0M1036.4 952.2h0M1036.3 950.6h0M1036.6 970.5h0M1037.3 955.8h0M1037.4 953.9h0M1037.4 961.2h0M1036.6 969h0M1037 967.8h0M1038.2 961.7h0M1038.4 954.7h0M1038.4 957.6h0M1037.5 957.5h0M1037.6 951.9h0M1039 953.2h0M1038.6 956.9h0M1038.7 970.2h0M1039.3 969.2h0M1039.4 960h0M1040.1 956.8h0M1040.2 968.2h0M1040 955.7h0M1039.4 970.6h0M1039.9 963.9h0M1041.1 954.1h0M1040.9 961h0M1041 960.8h0M1040.4 971.6h0M1040.5 967.1h0M1041.9 956.6h0M1041.8 959.8h0M1041.3 956h0M1042.1 959.2h0M1041.6 962.1h0M1042 967.8h0M1042.7 970.4h0M1042.4 956h0M1042.3 967.3h0M1042.7 960.3h0M1043.4 955.1h0M1043.8 962h0M1043.4 968.8h0M1043.1 967.4h0M1043.3 969.4h0M1043.9 958h0M1044.4 962.5h0M1044.2 964.5h0M1044 961.5h0M1043.8 969.3h0M1045 970.3h0M1045.3 965.3h0M1045.3 954.9h0M1045.5 958.6h0M1045.6 969.3h0M1046.3 970.3h0M1046 967.2h0M1046.6 956.6h0M1045.7 961.4h0M1046.1 955.7h0M1046.7 971.7h0M1046.9 955.9h0M1046.7 965.3h0M1046.7 963.1h0M1047 962.3h0M1047.9 971.3h0M1047.4 973.4h0M1047.6 953.7h0M1048.2 965.4h0M1047.9 957.7h0M1049.1 959.9h0M1049 958.1h0M1048.9 967.4h0M1048.7 963.7h0M1048.4 967.3h0M1049.9 956.7h0M1049.8 969.6h0M1049.3 971.9h0M1050.1 954.4h0M1049.4 955.2h0M1050.4 955.5h0M1050.6 959.1h0M1050.4 963.8h0M1050.5 971.1h0M1050.8 956.1h0M1051.2 953.9h0M1051.3 956.1h0M1051.7 971.1h0M1052 958.4h0M1051 970.6h0M1052.3 974.7h0M1052.3 960.9h0M1052 975.1h0M1052.4 963.7h0M1052.3 971.1h0M1053.6 964.7h0M1053 963.2h0M1053.7 963.2h0M1053.5 966.6h0M1053.3 966.9h0M1053.9 966.8h0M1054.6 956.1h0M1054.1 974h0M1054.7 954.6h0M1054.3 968.4h0M1055.4 965h0M1054.7 961.2h0M1055.3 970.8h0M1054.8 968.9h0M1055.3 969.2h0M1055.5 964.6h0M1055.8 968.1h0M1055.8 957.6h0M1056.2 961.1h0M1056.3 961.5h0M1056.9 973h0M1056.5 971.3h0M1056.5 975.9h0M1056.4 971.1h0M1056.8 958.9h0M1057.7 966.4h0M1057.7 957.8h0M1057.8 961.8h0M1058.3 963.7h0M1057.7 960.2h0M1059.2 962.5h0M1058.8 974h0M1058.6 972.3h0M1058.5 957.7h0M1058.2 965.4h0M1060 960h0M1059.5 972.7h0M1059.4 958.9h0M1059.6 965.1h0M1060 975.7h0M1060.2 968.3h0M1060.4 956.4h0M1060.4 976.4h0M1060.3 968.9h0M1060.7 957.1h0M1061.8 958.3h0M1061.2 972.1h0M1060.9 964.3h0M1061 966.6h0M1060.9 959.3h0M1062 957.9h0M1061.9 960.4h0M1062.3 959.1h0M1062.6 965.5h0M1062.1 961.5h0M1063.5 957.3h0M1063.4 958.4h0M1063.6 965.5h0M1063.3 975.8h0M1062.8 957.7h0M1064.3 969.8h0M1064.3 962.7h0M1064.1 960.7h0M1064 962.8h0M1064.2 963.2h0M1064.8 971.2h0M1064.6 974.9h0M1065 961.8h0M1064.6 968.2h0M1065 973h0M1065.8 966.2h0M1066.3 963h0M1066.4 977.2h0M1066.4 978.3h0M1065.7 975.4h0M1066.9 961.7h0M1067.3 971.8h0M1067.1 969.7h0M1066.4 976.7h0M1066.5 962.9h0M1067.8 961.6h0M1067.7 973.5h0M1067.3 972.3h0M1067.3 968.1h0M1067.8 972.9h0M1068.1 961.8h0M1069.1 966.3h0M1068.5 966h0M1068.8 974.4h0M1068.8 966.6h0M1069.6 969.4h0M1069.2 979.4h0M1070 975.4h0M1070 968.3h0M1069.8 963.1h0M1070.6 974.2h0M1070.8 976.9h0M1070.8 963.9h0M1070.7 968.7h0M1070.2 966.2h0M1071.6 977.4h0M1071.6 973.4h0M1071 961.5h0M1071.4 962.8h0M1071.1 960.3h0M1071.9 974.7h0M1071.9 977.7h0M1072 977.7h0M1072 964.3h0M1072.1 958.4h0M1073 967.1h0M1072.6 978.2h0M1073 958.3h0M1073.6 963.6h0M1072.9 958.9h0M1073.6 975h0M1074.1 970.2h0M1073.7 965.2h0M1074.5 967.1h0M1074.5 979h0M1074.5 978.4h0M1074.4 975.2h0M1075.2 974.8h0M1074.9 977.6h0M1074.6 971.2h0M1075.6 968.2h0M1075.5 975.4h0M1075.9 977h0M1075.9 972.8h0M1076.2 977.8h0M1076.8 966.7h0M1077.1 967.7h0M1076.3 966.8h0M1076.9 980.8h0M1076.8 974.5h0M1078 977.4h0M1077.5 970h0M1077.9 966.7h0M1077.2 973.7h0M1077.9 965.1h0M1078.7 980.3h0M1078.1 962.7h0M1078.5 967.3h0M1078.9 982.7h0M1078.4 978h0M1079.5 963.7h0M1079.9 963.8h0M1079 970.2h0M1078.9 970.9h0M1079.3 982h0M1080.2 979.7h0M1080.6 973.6h0M1080 967h0M1080.3 969.1h0M1080.4 971.7h0M1081 974.3h0M1081.7 964.8h0M1081 960.3h0M1080.8 961.4h0M1081.1 979.7h0M1082.3 982.9h0M1082.4 974h0M1082.2 960.5h0M1082 966.4h0M1082.2 961.8h0M1083 969.3h0M1083 969.9h0M1082.6 977.6h0M1083.3 974.5h0M1082.6 974.5h0M1084.3 983.9h0M1084.2 961.7h0M1084.3 976.3h0M1083.7 982.3h0M1084.2 981.7h0M1084.5 974.4h0M1084.7 967.8h0M1085.1 975.4h0M1084.6 973.6h0M1085.2 974.2h0M1086.1 974.4h0M1086.2 961.7h0M1085.7 974.1h0M1085.9 983.9h0M1085.8 972.3h0M1086.7 973.8h0M1086.8 983.6h0M1086.1 968.8h0M1087 962.6h0M1086.9 961.9h0M1087.6 980.3h0M1087.2 970.4h0M1087.2 978.1h0M1087.5 975.7h0M1087.3 975.3h0M1088.9 980.1h0M1088.9 967.5h0M1088.4 970.7h0M1088.2 980.6h0M1088.1 974.8h0M1089.6 984h0M1088.8 968.2h0M1089.3 984h0M1089 981.7h0M1089.2 974.8h0M1090.6 963.5h0M1090 965.7h0M1089.8 969.2h0M1090.4 975.8h0M1089.8 981h0M1091.1 965.6h0M1091.4 981.7h0M1090.8 984.5h0M1091.4 967.6h0M1090.6 982.8h0M1092.3 964.7h0M1092.3 980.8h0M1092.1 982.2h0M1092.5 970.2h0M1092.3 984.3h0M1092.7 978.9h0M1093.1 982.8h0M1093 969.1h0M1092.7 975.5h0M1092.5 983.1h0M1094.2 968.5h0M1094 978.8h0M1093.4 981.4h0M1094.1 970.1h0M1093.4 969.5h0M1095 974.1h0M1095 966.8h0M1094.3 971.3h0M1095.1 966.8h0M1094.3 981h0M1095.2 979.2h0M1095.2 969.1h0M1095.8 984.1h0M1095.5 973.9h0M1095.1 971.3h0M1096.2 982.3h0M1096.7 982.2h0M1096.5 980.1h0M1096.1 972.6h0M1096.3 970.1h0M1097.6 968.7h0M1097.2 970.3h0M1097.8 978.9h0M1097.4 972.7h0M1097.8 986.1h0M1098.2 977.4h0M1098.7 969.9h0M1098.1 966.2h0M1098.3 982.2h0M1098 974.1h0M1099.7 975.5h0M1099.1 984.2h0M1099.6 973h0M1098.8 979.3h0M1099.4 986.2h0M1100.3 971.5h0M1100.1 971h0M1100 975.4h0M1100.5 986h0M1100.5 975.6h0M1101.5 967.6h0M1101.4 979.8h0M1101.4 974.3h0M1101.5 964.9h0M1101.3 984.1h0M1101.8 984.6h0M1101.6 982.7h0M1101.9 974.4h0M1101.6 983.9h0M1102.1 966.6h0M1103.3 970h0M1102.7 974.7h0M1102.9 986.3h0M1103.2 980h0M1102.7 967.3h0M1103.3 977.5h0M1103.8 975.7h0M1104.2 974.9h0M1103.6 975h0M1103.4 987.7h0M1104.7 978.3h0M1104.5 971.1h0M1104.4 977.1h0M1104.5 988.9h0M1104.7 970.1h0M1105.1 969.1h0M1105.3 984.3h0M1105.9 971h0M1105.8 976h0M1105.5 978.2h0M1105.9 967.1h0M1106.6 982.3h0M1106.3 987.9h0M1106.7 972.8h0M1106 978.9h0M1107.5 971.1h0M1106.8 977.5h0M1106.8 983.6h0M1107.4 972.5h0M1107.2 971.3h0M1107.9 970.3h0M1108.5 976.9h0M1108.4 974.3h0M1108.5 980.4h0M1108.4 975.4h0M1109.2 970.7h0M1109.6 982.5h0M1109.1 981.7h0M1108.7 974.2h0M1108.8 986.7h0M1109.5 977.1h0M1110.4 985.4h0M1110.2 973.6h0M1109.7 983.5h0M1109.8 984h0M1110.7 985.1h0M1111 986.4h0M1111.4 975.7h0M1111.4 966.6h0M1111.3 967.1h0M1111.8 976.1h0M1112.1 974.3h0M1111.5 985.9h0M1111.9 985.2h0M1111.8 967.5h0M1113 972.2h0M1112.7 966.8h0M1112.5 983.2h0M1113 982.5h0M1112.6 984.8h0M1113.8 972.1h0M1113.6 981.7h0M1113.8 971.9h0M1113.4 975.4h0M1113.2 975.6h0M1114.7 981.4h0M1114.2 985.3h0M1114.1 985.7h0M1114.1 969.5h0M1114.3 979.9h0M1115.2 989.2h0M1115.8 974.4h0M1115.6 984.6h0M1115.5 973.7h0M1115.8 991h0M1115.8 975.7h0M1116.1 972.5h0M1116.2 989.8h0M1115.8 988.3h0M1116.1 967.9h0M1117.6 974.5h0M1116.9 970.6h0M1117.1 970.7h0M1116.9 973.9h0M1117.3 978.8h0M1117.9 981h0M1118.4 985.9h0M1117.9 990.8h0M1118.4 981.9h0M1118.1 976.1h0M1118.6 990.2h0M1119.1 970.6h0M1119.4 990.2h0M1118.5 985.6h0M1118.7 981.5h0M1120.2 977.1h0M1119.9 984.9h0M1119.6 983.9h0M1119.8 992.8h0M1119.6 986h0M1120.3 975.4h0M1120.4 972.2h0M1120.8 972.9h0M1121.1 970.9h0M1120.9 990h0M1121.3 974.1h0M1122 980.5h0M1122.1 977.2h0M1121.6 992.6h0M1121.5 992.9h0M1123 973.9h0M1122.6 992.5h0M1122.2 990.1h0M1122.9 987.7h0M1122.7 971.4h0M1124 971.6h0M1123.8 987.2h0M1123.3 986.3h0M1123.4 987.9h0M1123 992.5h0M1124.3 989.4h0M1124.4 989.7h0M1124.2 983h0M1123.9 981.6h0M1124 990.9h0M1125.5 980.2h0M1125.8 993.3h0M1125.8 971.5h0M1125.5 987.8h0M1125.4 969.9h0M1126.6 980.7h0M1126.3 990.2h0M1126 970.4h0M1126.6 976.5h0M1125.7 973.1h0M1127.6 988.5h0M1126.8 973.5h0M1127.5 986.6h0M1127.2 973.2h0M1127 993.7h0M1127.5 980.6h0M1127.6 995.2h0M1127.6 994.1h0M1128.3 988.5h0M1127.5 987.6h0M1128.9 982.7h0M1128.5 983.2h0M1129.2 973.6h0M1129.3 980.9h0M1128.7 976.3h0M1129.8 986.8h0M1129.9 993h0M1129.8 983.4h0M1130.3 975.9h0M1129.3 978.7h0M1130.5 973.8h0M1130.6 971.5h0M1131.1 982.9h0M1131.1 988.3h0M1130.9 989.9h0M1131.4 989.3h0M1131.3 984.9h0M1131.7 990.5h0M1131.3 979.5h0M1131.9 991.2h0M1133 974h0M1132.2 973.7h0M1132.7 990h0M1132.6 990.8h0M1132.5 985.3h0M1133.8 987.7h0M1133.6 986.2h0M1133.4 990.5h0M1133.5 974.5h0M1133.3 981.9h0M1134.2 985.7h0M1134.2 981.4h0M1134.2 980.9h0M1134.8 973.7h0M1133.8 989.8h0M1135.1 983h0M1135.3 981h0M1134.9 972h0M1135.6 995.6h0M1135 983.5h0M1135.9 973.3h0M1136.5 993.2h0M1135.8 978.3h0M1136.3 992.1h0M1136.1 981.7h0M1136.7 992.4h0M1137.4 993.9h0M1136.6 987.2h0M1137.5 990.3h0M1137 975.7h0M1137.5 990.9h0M1137.5 992.9h0M1138.1 984.3h0M1138.3 996.1h0M1138 974.7h0M1138.9 983.2h0M1138.5 996.2h0M1139 975.5h0M1138.5 981.1h0M1138.9 980.7h0M1139.6 993.5h0M1139.4 991.1h0M1139.5 996.8h0M1140.2 981h0M1139.8 975.4h0M1140.5 988.8h0M1140.7 981.6h0M1140.1 975.9h0M1140.7 977.1h0M1140.4 988.7h0M1141.9 986.2h0M1141.3 988h0M1141.3 993.1h0M1141.2 979.7h0M1141.4 996.3h0M1142.1 978.1h0M1142 978.6h0M1142.2 983.3h0M1142.7 983.5h0M1142.4 983.4h0M1143.6 996.7h0M1143.2 997.1h0M1143.1 998.6h0M1143.3 990.9h0M1143.2 980.3h0M1143.8 996.4h0M1144.1 991.6h0M1144.2 987.1h0M1143.9 978.1h0M1144 991.1h0M1145.1 973.8h0M1145.3 984.9h0M1144.7 980.4h0M1144.8 995h0M1145.2 982.2h0M1145.7 981.4h0M1145.8 982.9h0M1146.3 994.4h0M1146.2 996.9h0M1146.2 976.8h0M1146.4 978.3h0M1146.7 987.8h0M1147.2 989.3h0M1146.8 980.4h0M1147.4 993.7h0M1147.6 975.5h0M1148.3 980.9h0M1148.1 977.3h0M1148 983.5h0M1148.2 982h0M1148.3 979.6h0M1149 1000h0M1148.8 992.2h0M1148.5 981.6h0M1148.3 1000.1h0M1149.1 990.6h0M1149.4 979.5h0M1149.5 998.9h0M1149.3 978.9h0M1149.7 991.8h0M1150.5 979.5h0M1150.9 977.7h0M1150.2 981.2h0M1150.5 987.3h0M1150.6 993.8h0M1151.8 987.3h0M1150.9 996.8h0M1150.9 983.4h0M1151 990.8h0M1151.7 978.4h0M1152.1 997.5h0M1152.5 978.1h0M1152.5 996h0M1152.2 979.3h0M1152.5 983.6h0M1152.8 979.7h0M1153.1 978.7h0M1153.1 989.8h0M1153.3 986h0M1153.5 977.7h0M1153.9 1000h0M1154.5 999.6h0M1154.4 989.6h0M1154.4 990.5h0M1153.7 982.2h0M1154.6 998.6h0M1154.8 986.3h0M1155 978.3h0M1155.2 996.5h0M1155.3 998.7h0M1155.7 979.6h0M1156.2 993.9h0M1155.8 984.8h0M1155.6 997.6h0M1155.9 997.1h0M1156.6 984.3h0M1156.8 995.4h0M1157.2 985.1h0M1157 986.5h0M1157.2 995.8h0M1157.8 985.5h0M1157.5 999.2h0M1158 984h0M1157.3 981.1h0M1158.2 977h0M1158.9 990h0M1158.7 990.3h0M1158.5 990.8h0M1158.2 1000.3h0M1158.2 979.8h0M1159.7 993.1h0M1159.8 994.4h0M1159.9 977.6h0M1159 982.5h0M1159.8 980.3h0M1160.4 996.6h0M1160.1 990.2h0M1160.8 996h0M1160.3 989h0M1160.2 1001.6h0M1161.6 994.4h0M1161.1 995.7h0M1161.3 997.5h0M1161.2 999.7h0M1161.5 988.3h0M1162.3 997.8h0M1162.2 1001.9h0M1161.7 1000.2h0M1162.4 989.5h0M1162.5 980.5h0M1162.9 995.5h0M1163.4 986.6h0M1163.6 993.8h0M1162.6 980h0M1162.7 991.7h0M1163.8 983.7h0M1163.9 978.9h0M1164.4 998.9h0M1164.1 988.6h0M1163.8 992.7h0M1164.7 1002.7h0M1165.4 996.1h0M1165.2 979h0M1164.5 986.1h0M1164.5 988.1h0M1166.3 999.1h0M1166.3 983h0M1165.5 977.7h0M1165.6 978.6h0M1165.8 985h0M1166.9 992h0M1166.8 985.1h0M1166.9 995.4h0M1166.9 989.7h0M1166.7 984.8h0M1167.1 989.6h0M1167.7 982.3h0M1168 1000.5h0M1168 998.9h0M1167.6 982h0M1168.3 996.9h0M1169 980.4h0M1168 986.8h0M1168.3 993.2h0M1168.1 999.7h0M1169.2 1001.6h0M1169.2 985.7h0M1169.1 1003.1h0M1169.5 999.4h0M1169 991.9h0M1170.5 1003.7h0M1170.7 980.5h0M1170.2 1004.1h0M1170.3 1003h0M1170.1 978.4h0M1171.6 984.8h0M1171.3 987.4h0M1171.3 1002.5h0M1171.6 1001h0M1171 999.5h0M1171.6 989h0M1172.5 984.7h0M1172 993.3h0M1171.8 996.7h0M1172.3 980.5h0M1173.4 980h0M1173.2 987.3h0M1172.6 980.2h0M1173.5 999.2h0M1173 999.1h0M1174.4 1002.7h0M1173.9 985.5h0M1173.9 1004.2h0M1174.1 995.9h0M1174.2 989h0M1174.9 1000.8h0M1174.5 1001.1h0M1174.3 992.6h0M1174.9 982.2h0M1175.2 990h0M1175.4 989.4h0M1175.8 989.8h0M1175.2 980.9h0M1175.9 982h0M1175.5 999.8h0M1177 1001.9h0M1176.3 978.7h0M1176.9 994.4h0M1176.5 979.1h0M1176.5 984.9h0M1177.6 1004.7h0M1177.2 980.7h0M1177.7 981.6h0M1177.2 990.3h0M1178 987.3h0M1178.2 991.4h0M1178.1 989.5h0M1178.6 987.4h0M1178.7 983.7h0M1178 995.5h0M1178.4 1003.1h0M1178.9 998.7h0M1179.5 988.8h0M1178.9 995.2h0M1179.6 991.5h0M1179.3 997.1h0M1179.4 990.2h0M1179.9 991.4h0M1180.2 1002.8h0M1180.7 993.8h0M1180 985h0M1180.3 998.7h0M1179.9 997.4h0M1181.6 989.6h0M1181.5 990.8h0M1181.3 1002.2h0M1180.8 988.4h0M1181.6 981h0M1180.9 991.8h0M1182.2 996.1h0M1182.4 997.1h0M1181.5 981.2h0M1181.5 990.8h0M1181.5 993.3h0M1182.1 984.7h0M1183.3 990.4h0M1183.4 989h0M1183 993.8h0M1182.7 1000.1h0M1182.4 986.1h0M1182.7 1002.9h0M1183.8 980.6h0M1183.6 995.8h0M1184.1 982.5h0M1184.1 990h0M1183.8 990.8h0M1183.7 1005.9h0M1185.1 1004.1h0M1184.9 998.3h0M1184.3 980.7h0M1185 997.6h0M1184.8 988h0M1184.5 1004.1h0M1185.6 980.4h0M1185.4 989.1h0M1185.2 1005.8h0M1186 1001.5h0M1185.1 990.9h0M1185.2 999.1h0M1186.8 1000.9h0M1186.8 983.2h0M1186 982.4h0M1186.8 1002h0M1186.5 986.2h0M1186.9 983.2h0M1187.2 980.2h0M1187.9 991.1h0M1187.7 1001.4h0M1187.5 1006.3h0M1187.7 1004.7h0M1187.9 982.3h0M1188.6 986.2h0M1188.1 989.3h0M1188.8 981.8h0M1188.2 983.6h0M1188.8 993.4h0M1188.5 994h0M1189.5 989.3h0M1189.1 1000.1h0M1189.4 1003.9h0M1189 1002.9h0M1189.4 995.6h0M1189.1 995.4h0M1189.7 983.1h0M1189.9 983.7h0M1189.6 999.5h0M1190.3 996.8h0M1189.8 999.7h0M1190.4 996.9h0M1190.7 995.6h0M1190.9 987.7h0M1190.6 1003.6h0M1191.1 1005.4h0M1190.7 987.6h0M1191 982.2h0M1191.7 995.1h0M1191.9 1004.9h0M1192 997.7h0M1192 1001.6h0M1191.8 980.7h0M1192.4 1001.8h0M1192.4 983.8h0M1192.5 998.3h0M1192.4 981.4h0M1192.8 981h0M1192.6 991h0M1192.5 980.9h0M1193.5 987.5h0M1193.5 992h0M1193.6 989.6h0M1193.2 1003.2h0M1193.9 994.1h0M1193.2 987.2h0M1195 993.3h0M1194.3 1002.9h0M1195 984.3h0M1194.6 996h0M1194.2 989.6h0M1194.7 999h0M1195.6 997.7h0M1195.4 983h0M1195 1003.5h0M1195.9 1005.3h0M1195.1 1001.7h0M1195.2 990.4h0M1196.1 1004.2h0M1196.7 1003.5h0M1196.3 1006.3h0M1196.2 996.6h0M1196.6 987.6h0M1196.3 984h0M1197.6 986.4h0M1196.9 988.9h0M1197.4 998.4h0M1197.3 1004.2h0M1197.6 987.1h0M1197.3 986h0M1197.9 985.5h0M1197.8 990.9h0M1198.6 999.1h0M1197.8 987.4h0M1198.3 995.7h0M1197.7 984.1h0M1199.2 997.7h0M1198.7 1002.3h0M1198.8 997.4h0M1199.1 990.8h0M1199.5 992.3h0M1199 996.1h0M1200.3 1008.2h0M1200.3 996.2h0M1200.2 998.9h0M1200.5 1007.7h0M1200.3 987.6h0M1200.1 993.6h0M1200.6 1002.8h0M1200.6 1000.9h0M1200.9 993.3h0M1201.1 1001.3h0M1201.4 1008.6h0M1201.2 989h0M1202 995.3h0M1202.2 994h0M1201.7 982.8h0M1201.8 996.3h0M1201.6 984.9h0M1201.8 984h0M1202.4 994.1h0M1202.5 995.6h0M1202.7 992.6h0M1202.3 982.7h0M1202.8 1008.1h0M1202.5 991.6h0M1203.4 1002.2h0M1203.6 1003.6h0M1203.1 985.9h0M1203.3 992.2h0M1203.5 992.6h0M1204.1 994.1h0M1204.6 1008.2h0M1204.6 998.3h0M1204.8 991.4h0M1204 1008h0M1204.5 998h0M1204.1 1002.4h0M1205.3 999.8h0M1205.2 1007.1h0M1205.3 989.9h0M1205.8 988.5h0M1205.2 995.6h0M1205.9 985.7h0M1206 1004h0M1205.9 993.8h0M1206.6 1001.8h0M1206.6 985.8h0M1206.7 992.2h0M1206.6 995.3h0M1207.6 995.6h0M1207 986.9h0M1207.2 984.2h0M1206.9 1006.2h0M1207.3 1005.9h0M1206.9 995.7h0M1208.1 985.8h0M1207.9 1007.6h0M1208.3 996.6h0M1208.2 1006h0M1208.6 998.9h0M1207.7 1006.3h0M1208.7 989.5h0M1208.6 996.8h0M1209.1 995.4h0M1209 986.8h0M1209.2 997.5h0M1208.8 1005.4h0M1210.3 1007.9h0M1210.4 985h0M1209.8 995.2h0M1209.7 1003.1h0M1210.3 986.9h0M1209.9 1009.1h0M1211.2 995.4h0M1210.4 995.5h0M1210.8 1004.4h0M1210.5 990.8h0M1211.3 983.6h0M1210.9 985.9h0M1212 994.8h0M1212.1 989.4h0M1212.1 989.5h0M1211.2 985.8h0M1211.3 993.9h0M1212.2 993h0M1212.8 984.5h0M1212.6 998h0M1212.2 999.1h0M1212.5 992.3h0M1212.9 1002.1h0M1212.2 986.4h0M1213.1 990.8h0M1213.6 1009.7h0M1214 1006.9h0M1213.1 1004.9h0M1213.8 996.4h0M1214 999.8h0M1214 989.6h0M1214 1000.2h0M1214.5 1006.8h0M1213.9 984.1h0M1214.9 990.9h0M1214.2 1007.1h0M1214.9 1005.2h0M1215.7 999h0M1215.4 984.1h0M1215.4 1000.4h0M1215.6 997.8h0M1214.9 989.9h0M1216.4 986.2h0M1215.8 990.8h0M1216.5 998.7h0M1216.1 1009.9h0M1216.3 990.5h0M1216.3 1007h0M1217 995.9h0M1217.2 1010.7h0M1217.2 989.1h0M1217.2 992.8h0M1217.1 1003.3h0M1216.6 997.8h0M1217.8 1000.4h0M1218.3 996.9h0M1218.1 992.1h0M1217.8 998h0M1218 990.3h0M1218.3 997.7h0M1218.8 991.3h0M1219.2 1008.7h0M1219.3 991.1h0M1218.5 1001.4h0M1218.4 1007.4h0M1219.1 993.5h0M1219.7 1002.9h0M1219.5 994.4h0M1220.1 1002.9h0M1219.9 987.3h0M1219.5 991.5h0M1219.3 1001.8h0M1220.8 1009.5h0M1220.8 1009.4h0M1220.7 998.6h0M1220.5 997.2h0M1221.1 997.8h0M1220.2 994.2h0M1221.3 1001.6h0M1221.6 997.6h0M1222 1005.3h0M1221.2 985.6h0M1221.8 1000.9h0M1221.8 998.3h0M1222 997.1h0M1222.8 1001.1h0M1222 988.3h0M1222.9 999.6h0M1222.2 1003.9h0M1222.9 1008.2h0M1223.5 1006.8h0M1223 997.5h0M1223.7 994.2h0M1223 1008.3h0M1223.6 985.3h0M1223 1000.1h0M1224.8 1001.8h0M1224.7 988h0M1224.4 990.1h0M1224.1 989.2h0M1224.3 986.4h0M1224.5 1002.6h0M1225.6 1006h0M1224.8 1008.7h0M1225.2 1010.5h0M1225.2 987.5h0M1225.4 990h0M1225.7 999.8h0M1226.5 998.7h0M1225.9 1003.3h0M1226.3 997.8h0M1225.9 996.8h0M1226.3 991.6h0M1225.8 998.5h0M1227.2 987.4h0M1226.8 1011.7h0M1226.8 1006.3h0M1226.8 987.9h0M1227 1009h0M1227.3 986.9h0M1228.1 1002.4h0M1227.9 1003.6h0M1227.9 990.6h0M1228.1 989.2h0M1227.7 1008.6h0M1228 999.5h0M1229 999.1h0M1228.7 1000.7h0M1228.3 995.3h0M1228.3 1012.6h0M1229.2 1003.4h0M1228.5 1008.9h0M1229.5 1007.6h0M1229.9 1002.2h0M1229.9 993.1h0M1230 1000.6h0M1230 1008.6h0M1229.5 997h0M1230.5 988.1h0M1231 1004.5h0M1230.6 1000.8h0M1231 987.9h0M1230.5 1004.6h0M1230.6 999.5h0M1231.3 992.2h0M1231.7 995.4h0M1231.9 1010.5h0M1232 993.6h0M1231.5 989h0M1231.4 988.2h0M1232.4 1012.1h0M1232.7 996.1h0M1232.2 1011.4h0M1232 1009.1h0M1232.8 988.2h0M1232.9 1003.7h0M1233.2 997.9h0M1233.4 1000.7h0M1233.7 1010.6h0M1233.1 986.7h0M1233.6 1003.9h0M1233.5 988.4h0M1233.8 1010.8h0M1234.1 999.3h0M1234.7 991.8h0M1234.3 988.2h0M1234.3 1006.5h0M1233.9 1007.1h0M1235.6 1009h0M1235.4 1012.3h0M1235.3 1001.5h0M1235.4 1008.5h0M1235.2 1004.7h0M1234.8 995.8h0M1235.8 1010h0M1236.3 994.7h0M1236.5 988.4h0M1235.6 995.7h0M1235.6 1012.5h0M1235.9 997.3h0M1237.3 1001.3h0M1237 998.8h0M1236.9 1012.8h0M1236.7 1001.1h0M1236.9 990.7h0M1236.5 1000.6h0M1238.1 998.7h0M1237.4 1012.3h0M1237.4 1011h0M1237.3 1004.6h0M1237.4 994.1h0M1237.7 1007.5h0M1238.6 998.5h0M1238.6 1001.3h0M1238.5 1013h0M1238.4 990.8h0M1238.7 996.7h0M1238.9 988.2h0M1239.8 997.2h0M1240 995.4h0M1239.5 995.9h0M1239.6 994.9h0M1239.8 998.4h0M1239.8 995.2h0M1240.5 1002.5h0M1240.7 1005.1h0M1240.4 989.8h0M1240.1 991.4h0M1240.2 992.4h0M1240.7 996.7h0M1241.8 993.9h0M1241.1 992.5h0M1241 1006h0M1241.5 994.4h0M1241.7 1005.8h0M1241.3 1004h0M1242.5 999.6h0M1241.9 997.5h0M1242.7 997.8h0M1242.4 990.1h0M1242.6 1011.1h0M1242.2 997.7h0M1243.2 994.6h0M1242.9 991.3h0M1243.4 1001.6h0M1243.7 1013.9h0M1243.6 1013.4h0M1243.5 988.5h0M1243.7 1014.4h0M1244.5 1004.6h0M1244.2 999.7h0M1244 991.9h0M1244.1 995.4h0M1243.7 1011.5h0M1245.1 1011.8h0M1244.8 1003.7h0M1244.8 1010.6h0M1244.7 1005.6h0M1245.1 996.9h0M1244.6 1001.2h0M1245.9 1010.4h0M1245.6 993.2h0M1245.7 1009.9h0M1245.6 1005.4h0M1245.4 990.4h0M1246.1 1001.6h0M1246.4 1001.1h0M1247.2 998.9h0M1246.9 999.7h0M1246.8 989.5h0M1247.2 1004h0M1246.6 996h0M1247.4 1013.8h0M1248 998.7h0M1247.8 1003.4h0M1247.4 989.3h0M1247.9 992.8h0M1247.8 988.9h0M1248.1 993h0M1248.8 1005.2h0M1249.1 1006.5h0M1248.6 988.9h0M1249.1 1001.8h0M1249 989.7h0M1249.8 1001.6h0M1249.2 999.7h0M1249.1 1004.4h0M1249.2 1007.7h0M1249.2 1007.4h0M1249.6 1008h0M1250.9 996.8h0M1250.6 999.6h0M1250.8 1011.2h0M1250.7 1005.1h0M1250.2 1013.4h0M1250.9 1014.6h0M1251.1 1011.2h0M1251.5 1011.7h0M1251.6 1001.3h0M1251.2 1010.5h0M1251.5 1003.6h0M1251.7 989.8h0M1251.7 1001.7h0M1251.8 1011.9h0M1251.8 1013h0M1251.9 992.7h0M1252.5 1007.5h0M1252.1 1005.2h0M1253.2 1015h0M1253.1 1003.8h0M1253.1 1000.4h0M1253.3 992.2h0M1253.3 1014.4h0M1253.4 1003.9h0M1253.9 991.9h0M1253.6 1004h0M1254.4 1012.8h0M1253.7 1009.7h0M1254.3 1002.3h0M1254.4 994.4h0M1254.7 1003.4h0M1255.1 1001.6h0M1254.7 1013h0M1254.8 1000.8h0M1254.6 1002.5h0M1255.1 999.2h0M1256 1002.9h0M1255.3 1015.7h0M1255.6 1004.3h0M1256.3 995.1h0M1255.4 995.1h0M1255.5 1012.6h0M1256.7 990.7h0M1256.5 1003.4h0M1256.4 997.9h0M1257.1 1001.6h0M1256.4 1005.8h0M1256.3 1003.7h0M1257.7 992h0M1257.6 998h0M1257.8 1006.4h0M1258 1006.1h0M1257.3 994.7h0M1257.8 1011.7h0M1258.1 1001h0M1258.3 1002.4h0M1258.9 1004.9h0M1258.7 1010.5h0M1258.3 1006.5h0M1258.4 1002.6h0M1259.4 1007.9h0M1259.1 1012.6h0M1259.1 998.3h0M1259.7 1016.5h0M1259.3 1015.6h0M1258.9 1015.7h0M1260 990.8h0M1260.6 994.2h0M1260.6 990h0M1259.9 999.5h0M1259.9 1002.6h0M1260.1 1009.9h0M1261.2 1016.1h0M1261.5 994.5h0M1261.6 1014.2h0M1261.3 1004.2h0M1260.9 998.6h0M1260.9 995.2h0M1262.2 998.8h0M1262.4 1005.5h0M1262.4 992.3h0M1262.4 1003.8h0M1262.2 996.4h0M1262.3 1001h0M1263.2 1005.9h0M1262.6 998.2h0M1263.3 990.5h0M1263.1 1004.9h0M1263.2 999h0M1263 1003h0M1264.1 992.1h0M1263.9 997.2h0M1264 997.2h0M1263.6 996.4h0M1264.3 1000h0M1264.3 1010.1h0M1264.6 1005.2h0M1264.3 1015.5h0M1264.9 993.2h0M1264.8 1003.6h0M1265 998h0M1265.2 1007.1h0M1265.3 1012.5h0M1266.1 998.5h0M1265.9 1013.6h0M1266.1 992.1h0M1266 997h0M1266 1008.9h0M1266.6 1014.8h0M1266.9 1017.3h0M1267.1 1005.9h0M1266.8 1008.5h0M1266.5 1003.9h0M1266.6 996.2h0M1267.3 1013.3h0M1267.8 1009.3h0M1267.7 1004.2h0M1267.6 1008.5h0M1267 1002.4h0M1268 996h0M1268.4 992.5h0M1268.2 1012.9h0M1267.9 1012.2h0M1268.7 1014h0M1268.2 1015.8h0M1268.3 1002.7h0M1269.8 1005.3h0M1269.5 993.5h0M1268.8 997.7h0M1268.9 1012.9h0M1269 1016.6h0M1269.5 995.7h0M1270.4 999.2h0M1270.2 992.6h0M1270.5 1012h0M1270.3 1009.4h0M1270 994h0M1270 1010.7h0M1271.2 994.3h0M1270.8 1003.6h0M1270.6 991.9h0M1271 994.3h0M1271.5 994.1h0M1271.3 1012.3h0M1271.8 1005.5h0M1272.5 1007.5h0M1271.9 1017.3h0M1271.8 1016.7h0M1271.8 1002.2h0M1271.8 1008.4h0M1273.3 1009.5h0M1272.6 1017.7h0M1273.1 1004.5h0M1273.2 993.7h0M1273 1012.2h0M1273.2 1009.1h0M1273.4 1003.9h0M1273.6 1007.4h0M1273.7 1003.2h0M1273.8 1006.8h0M1274.2 998.5h0M1273.6 995.9h0M1274.3 1014h0M1275.1 994.3h0M1274.6 1015.5h0M1275.1 1017.5h0M1275.2 999.2h0M1274.3 997.7h0M1275.6 991.4h0M1275.4 1003.8h0M1275.8 995.2h0M1275.2 1000h0M1275.2 994.3h0M1275.2 1012.7h0M1276.9 992.2h0M1276.8 1014h0M1276.7 999.2h0M1276.8 993.3h0M1276 1017h0M1276.2 1015.9h0M1277.7 992.4h0M1277 1008.7h0M1277 1009.2h0M1277.6 997.4h0M1277.4 996.9h0M1277.8 1008.3h0M1278.5 1008.1h0M1277.9 1015.3h0M1278.6 1005.2h0M1278.4 1004.6h0M1278.6 1005.7h0M1278.1 1005.2h0M1278.9 991.4h0M1279.2 1014.9h0M1279.4 996.9h0M1279.2 1007.1h0M1279.3 1003.8h0M1279.2 1010h0M1280.5 1005.4h0M1280.4 1009.8h0M1279.7 998.4h0M1279.9 1001h0M1280.1 999.3h0M1280.6 1011.3h0M1280.9 1010.4h0M1281.4 995.7h0M1281.1 1017.5h0M1280.9 1015.3h0M1281.3 1000.1h0M1280.6 1013.3h0M1281.8 1001h0M1281.9 1011.3h0M1282.3 1016.4h0M1282.2 996.2h0M1281.8 991.7h0M1281.6 1000.7h0M1282.5 1004.5h0M1282.4 1009.3h0M1282.7 998.3h0M1283 1000.5h0M1282.3 1014.3h0M1283.1 1015.4h0M1283.5 998.8h0M1283.9 995.6h0M1284.2 1009.4h0M1283.7 993h0M1283.5 1003.1h0M1284.2 995.5h0M1284.7 993.8h0M1285.1 1012h0M1284.9 1012h0M1284.3 998.2h0M1284.1 1006.7h0M1284.2 996.8h0M1285.2 1016.8h0M1285.8 999.5h0M1286 996.1h0M1285.1 1002.1h0M1285.8 994.4h0M1285.8 1006.5h0M1286.7 1001h0M1285.9 994.5h0M1286.6 1005.6h0M1286.7 997.2h0M1286.2 997.6h0M1286.8 1010.9h0M1287 1011.6h0M1286.8 1004.6h0M1287.1 1012.7h0M1287.5 1010.5h0M1287 993h0M1287.4 1010.8h0M1287.7 1014.7h0M1288.6 1001.8h0M1288.2 1009.7h0M1288.6 1009.6h0M1288.2 1012.9h0M1288.2 992.8h0M1289.1 1003.3h0M1288.9 1002.7h0M1288.8 1000.5h0M1289.3 1016.1h0M1289.1 1015h0M1288.7 1006h0M1290.2 1013.3h0M1289.9 996.6h0M1290.5 1008.7h0M1290.2 1001.5h0M1289.6 1007.6h0M1289.9 1016.3h0M1291.1 1012.7h0M1291 1012.6h0M1290.5 1019.2h0M1291 1008.4h0M1290.6 994.6h0M1291.1 1011.9h0M1292 999.1h0M1291.8 1013.1h0M1291.9 1017h0M1291.4 1013.3h0M1291.3 1009.2h0M1291.8 994.2h0M1292.6 1010.5h0M1293.1 994.4h0M1292.7 1013.9h0M1292.3 1016.6h0M1293.1 1001.6h0M1292.4 996.2h0M1293.3 1003.7h0M1293.8 1017.8h0M1293.7 1018.3h0M1293.5 1010.2h0M1293.1 1003.7h0M1293.1 996h0M1294.8 995.5h0M1294.3 1006.7h0M1294.5 993.3h0M1294.1 1010.8h0M1294.4 994.9h0M1294.5 1002.6h0M1295.9 993.8h0M1295.1 994.5h0M1295.5 1018.6h0M1295.7 995.5h0M1295.4 1002.2h0M1295.9 1011.7h0M1296.4 999.5h0M1296.2 1006.9h0M1296.2 1007.9h0M1295.9 1004h0M1296.8 1003.4h0M1296.3 1013.1h0M1297.5 1012.7h0M1297.1 1012h0M1296.9 1009.4h0M1296.7 997.9h0M1296.9 1002.2h0M1297.4 993.2h0M1298.5 995.2h0M1298.6 1018.5h0M1298.2 1015.6h0M1298.5 1004.9h0M1298.5 993.6h0M1298.4 1010.3h0M1299.3 996.8h0M1298.6 1007h0M1299.1 1011.5h0M1298.7 1008.2h0M1299.5 999.7h0M1299.3 1018.9h0M1300.1 1004.8h0M1299.8 1005.6h0M1299.5 994.9h0M1299.7 997.6h0M1300.3 1002.7h0M1300.3 1008.2h0M1301.2 1017.3h0M1301 1005.1h0M1300.5 1008.3h0M1300.6 1015.4h0M1300.3 1010.2h0M1300.6 1004.3h0M1301.7 1019.7h0M1302.2 1002.7h0M1302.2 1019h0M1301.7 1008.3h0M1301.4 1014.4h0M1301.7 1013.7h0M1303 1010h0M1302.8 1008h0M1302.2 1005.5h0M1302.2 998h0M1303.1 1003.4h0M1302.2 1004.9h0M1303.1 1009.6h0M1303.2 999h0M1303.6 1018.3h0M1303 1012.6h0M1303.6 1006.4h0M1303.4 993.4h0M1304.3 1007.4h0M1304.2 1020.2h0M1304.2 1016.2h0M1304.7 1014.8h0M1304.4 1006.8h0M1304.7 996.4h0M1305 993.6h0M1305.3 1005.6h0M1305.8 1018.6h0M1305.2 1006.7h0M1304.9 1013.7h0M1305.3 997.8h0M1306.6 994.5h0M1305.9 1006.3h0M1306.7 997.1h0M1306 1014.8h0M1306 1018.6h0M1305.7 999.8h0M1306.9 1016.5h0M1306.7 1011.7h0M1307.5 1019.9h0M1307.4 994.8h0M1307.1 999.3h0M1306.7 1000h0M1308.2 1009.1h0M1307.6 1001.2h0M1307.6 1018.6h0M1308.3 1006.3h0M1308.5 1020.1h0M1307.7 1000.4h0M1308.6 1010.6h0M1309 1007.6h0M1309.2 1007.9h0M1308.7 1011.7h0M1309.3 994.9h0M1308.9 997.3h0M1310 1005.3h0M1310.1 1011.8h0M1310.3 1009.4h0M1309.9 1020.1h0M1310.1 1002.8h0M1309.4 1018.7h0M1310.3 1018.8h0M1311.1 1011.7h0M1311.1 1010.2h0M1310.9 1009.9h0M1310.4 995.8h0M1310.9 1005.9h0M1311.2 1008.9h0M1311.4 1000.9h0M1312 1010.5h0M1311.8 1015.9h0M1311.5 1006h0M1311.5 1003.4h0M1312.8 1017.9h0M1312.3 1013.1h0M1312.2 994h0M1312.7 1014.9h0M1312.3 1020.9h0M1312.7 1002.5h0M1313.7 1016.8h0M1313 1018.7h0M1313.3 1001.3h0M1313.3 1008.2h0M1313.4 1001.9h0M1313 1011h0M1314.5 1012.8h0M1314.2 1017.3h0M1313.8 997.4h0M1313.8 1009h0M1314.3 1000.1h0M1314.3 994h0M1314.7 1020.2h0M1315.6 995.9h0M1315.4 1007.8h0M1315.2 1016.9h0M1315.3 1019.6h0M1315.4 1018.9h0M1315.7 1016.4h0M1315.9 1019.1h0M1316.4 1020.4h0M1316.4 1004.7h0M1316.1 1015.4h0M1315.7 1008.7h0M1317.1 1013.7h0M1316.8 1010.6h0M1317.2 1004.5h0M1317.2 1018.7h0M1316.9 1008.4h0M1317 1016.9h0M1317.7 1002h0M1317.8 1011.9h0M1317.6 1020.8h0M1317.9 1014.1h0M1317.8 994.9h0M1317.8 1009.8h0M1318.4 1020.9h0M1318.9 1006.8h0M1318.3 1001h0M1318.6 1011.9h0M1318.5 1007.5h0M1318.6 1009.6h0M1319.9 1008.4h0M1320 1011.3h0M1319.3 1012.2h0M1319.7 1015h0M1320.1 1003.9h0M1320.1 1000.6h0M1320.8 994.6h0M1320.9 1006.5h0M1320.6 1007.9h0M1320.5 1000.7h0M1320.8 1011.5h0M1320.2 1001.8h0M1321.9 1002.2h0M1321.3 1010.2h0M1321.4 1020.3h0M1322 998h0M1321.2 999.1h0M1321.4 1002.2h0M1322.6 1018.6h0M1322 995.3h0M1322 1003h0M1322 1006.3h0M1322.3 1014.3h0M1322.9 1021.1h0M1323.2 1012.1h0M1322.9 1011.2h0M1323.7 1018.7h0M1322.9 999.1h0M1323.7 1013.6h0M1323.6 996.4h0M1324.3 995.3h0M1324.4 1016.3h0M1324 994.8h0M1324.4 1021.8h0M1324.3 1004.6h0M1324 1016.8h0M1325.6 1004.7h0M1324.8 1021.9h0M1325 1006.8h0M1324.9 1014.5h0M1325.6 1007.5h0M1325.5 1005.6h0M1325.9 1016.6h0M1326.5 1015.4h0M1326.2 1017.3h0M1326.4 1020.8h0M1326 1005.4h0M1325.5 1009.2h0M1326.8 994.9h0M1327.4 1003.3h0M1327.3 995.3h0M1326.8 1016.2h0M1327.1 1013.2h0M1326.9 997.4h0M791.5 700h0M791.5 735h0M791.5 760h0M791.5 766h0M791.5 796h0M791.5 842h0M791.5 877h0M791.5 920h0M791.5 965h0M791.5 1000h0" stroke="#e8352a" stroke-width="4.2" stroke-linecap="round" fill="none"/>
<path d="M794.6 679.8h0M795.5 677.1h0M797.2 675.2h0M797.8 673.4h0M798.4 672.8h0M799.5 672.9h0M800.1 671.4h0M801.5 671h0M801.8 670.7h0M802.6 669.5h0M803.9 669.9h0M804.7 669.2h0M805.5 669.9h0M807.2 670.8h0M808 671.5h0M808.2 670.4h0M808.9 672.6h0M810.6 673.3h0M811.5 671.8h0M812.1 674.2h0M813 674.7h0M814.2 675.5h0M814.6 676.3h0M815.4 676h0M816.8 678.3h0M817.2 679.2h0M818.6 678.6h0M819.8 680.7h0M820.2 682.2h0M820.8 682.3h0M822.1 684h0M822.8 682.4h0M823.6 683.3h0M825 683.5h0M825.6 684.1h0M826.9 683.2h0M827 683.3h0M828.5 683.2h0M829.7 685h0M830.3 683.2h0M830.6 685.7h0M831.7 683.8h0M832.9 685.3h0M833.8 685.7h0M834.7 686.1h0M835.1 684.5h0M836.2 684.2h0M837.7 684.6h0M838.4 686.9h0M838.7 685h0M840.4 686.4h0M840.7 687.1h0M841.3 685.7h0M842.3 685.8h0M843.9 686.4h0M844.7 686.4h0M845 686.1h0M846.5 686.5h0M847.3 686.4h0M848.1 686.2h0M849.2 685.4h0M850.2 686.4h0M850.9 685h0M851.7 686.1h0M852.1 686.1h0M853.2 686.4h0M854.8 686.7h0M855.3 685.7h0M856.5 685.3h0M857.6 686.4h0M857.8 687.3h0M859.3 687h0M860 686.1h0M860.7 685.9h0M861.7 686h0M862.9 687.5h0M863.1 685.7h0M864.2 685.9h0M865.6 685.6h0M866.5 685.2h0M866.9 687.4h0M867.9 686.8h0M868.3 687h0M869.8 686.8h0M870.7 685.2h0M871.2 685.8h0M872.3 685.8h0M873.5 685.7h0M874.5 685.8h0M874.8 686.2h0M875.6 685.4h0M877.3 686.1h0M877.7 686.1h0M879.2 685.8h0M879.5 687.5h0M880.8 685.4h0M881.2 685.9h0M881.8 687h0M883.7 687.4h0M884.4 686.9h0M885.3 685.2h0M885.7 687.4h0M887 686h0M887.9 685.2h0M888.3 685.5h0M889.5 685.4h0M890.7 687h0M891.7 685.6h0M892.3 686.2h0M893.3 685.1h0M894.3 685.9h0M894.6 686.2h0M895.7 685.5h0M896.2 686.6h0M897.1 685.7h0M898.1 685.1h0M899.1 684.6h0M792.6 706.4h0M791.9 666h0M791.1 677h0M792.3 754h0M791.6 761.9h0M792.5 696.3h0M790.5 668.7h0M791.4 718.4h0M792.5 745.3h0M792.7 658.8h0M791.3 661.8h0M791.7 751.4h0M791.1 676.6h0M790.8 696.1h0M791 667.9h0M792.1 718.4h0M790.7 702.4h0M791.7 659.9h0M792.3 728h0M792.2 725.4h0M792.8 669.6h0M791.1 660.9h0M791.5 679.2h0M792.1 744.6h0M790.7 658.2h0M790.6 742.3h0M792.8 680.4h0M792.8 727.9h0M791.2 755.1h0M792.4 656h0" stroke="#4490c6" stroke-width="3.8" stroke-linecap="round" fill="none"/>
<path d="M794.8 661.3h0M795.2 660.4h0M795 663.6h0M795.3 658h0M795.4 654.4h0M795.8 662.1h0M797 661.7h0M796.9 656.2h0M797.4 652.6h0M797.3 652.5h0M797.5 659.4h0M797.3 657.1h0M798.7 651.2h0M798.1 652.6h0M798.8 654.7h0M799.4 652.6h0M799.9 656.4h0M799.2 655.2h0M800.7 652.2h0M801 650.7h0M800.3 656.6h0M800.7 656.2h0M801.6 655.3h0M801.8 652.9h0M802.3 654.7h0M802.6 659.2h0M802.2 656.6h0M803.3 660.1h0M803.5 653.6h0M803 657.1h0M803.6 652.5h0M803.5 658.5h0M803.6 653.7h0M804.4 656.9h0M805 660.9h0M805.3 660.7h0M805.6 662.2h0M806.3 655.5h0M805.4 656.2h0M806.8 657.9h0M806.1 659.3h0M806.5 660.7h0M807.6 662.5h0M807.8 657.3h0M808.1 664h0M808.4 662.1h0M808 664.2h0M808 659h0M809.2 660.7h0M808.8 661.6h0M808.9 663.5h0M810.4 663.3h0M810 665.2h0M810.1 663.1h0M811.2 668.3h0M810.7 664.7h0M811 666.2h0M811.5 674.3h0M812.1 666.9h0M812.2 665.8h0M813.4 673.3h0M812.7 670.3h0M812.6 674h0M813.7 670.3h0M814.3 677.4h0M814.3 675.7h0M814.5 674.4h0M814.6 669.8h0M814.2 672.2h0M816.2 675.1h0M816.2 680.1h0M816.2 674.3h0M816.2 673.5h0M816.7 680h0M817 676.1h0M817 678.2h0M818 679.4h0M817.8 676.5h0M818.2 680h0M819 676.2h0M818.3 681.4h0M818.9 674.4h0M819.8 680.5h0M818.9 680.7h0M820 678.6h0M819.8 673.6h0M820.8 679.5h0M821 682h0M821.5 675.9h0M820.8 676.6h0M821.7 678.2h0M821.6 682.8h0M821.8 678.6h0M822.8 683h0M822.9 679.4h0M822.9 674.6h0M823.2 682h0M823.4 679h0M824.1 679.7h0M824.8 682h0M824.2 679.9h0M824.4 677.2h0M825.7 681.8h0M826.1 678.9h0M825.7 679.5h0M826.4 679.8h0M826.5 683.6h0M826.7 683h0M827.5 683.8h0M827.8 676.2h0M826.9 679.1h0M827.8 681.3h0M828.6 683.4h0M827.9 681.7h0M829.7 684.2h0M828.9 684h0M829.1 679.7h0M829.7 679.3h0M830.1 678.4h0M829.7 678.2h0M831.1 679.4h0M830.4 678.4h0M831.1 680.1h0M832.2 684.5h0M831.4 677.9h0M831.3 682.7h0M832.7 684.1h0M833.2 677.9h0M832.4 684.1h0M833.2 676.1h0M833.9 679.6h0M833.2 684.4h0M834.1 683.8h0M834.1 683.8h0M834.5 678.9h0M835.2 677h0M835.5 678h0M835 677.3h0M836.2 678.8h0M836.7 678.6h0M836.4 677.6h0M837 676.1h0M837.6 681.2h0M836.9 680.5h0M838.6 680.2h0M838.2 684h0M838.1 680.9h0M838.9 684h0M839.3 682.2h0M839 679.5h0M839.5 683.3h0M839.7 677.8h0M839.5 684.2h0M840.6 678.6h0M840.7 680.6h0M840.5 680.5h0M842.4 681.4h0M841.5 685.4h0M841.6 679.6h0M842.7 681h0M842.3 681h0M842.1 678.7h0M843.1 676.4h0M843.4 678.4h0M843.7 681.2h0M844.8 684.5h0M844.4 679.3h0M845.1 677.6h0M844.9 684.1h0M845.9 682.2h0M845.7 683.9h0M846.3 684.1h0M846.7 684h0M846.4 684.7h0M846.9 676.5h0M846.8 679.6h0M846.7 684.1h0M848.3 682.6h0M848.1 676.2h0M848.5 683.3h0M849.2 676.8h0M849.3 678.6h0M848.5 678.7h0M850.2 685.4h0M849.9 679.8h0M849.9 682.6h0M851 676.9h0M850.4 678.6h0M851.1 679h0M851.2 678.7h0M851.9 682.7h0M851.9 678.9h0M852.6 677.2h0M853.1 678h0M853.2 685h0M853.9 685.3h0M853.4 678.7h0M853.2 685.1h0M854 681.1h0M854.9 677.4h0M854.8 680.9h0M855 684.6h0M855.3 676.3h0M854.7 680.8h0M855.8 679.3h0M856 684.1h0M855.6 683.2h0M857.6 682.9h0M857.6 678.8h0M856.9 679.8h0M857.8 680.1h0M857.7 676.5h0M857.5 684h0M858.6 678.6h0M858.9 677.8h0M858.7 685.2h0M860 684.8h0M860.3 681.3h0M860.1 676.5h0M861 682.2h0M860.4 676.5h0M861.2 677.2h0M861.4 683.1h0M862.2 678.5h0M861.8 678.9h0M862.1 677.5h0M862.1 684.7h0M862.5 678.1h0M863.3 677.3h0M863 676.8h0M863.2 676.8h0M864.4 684.5h0M864.6 679.9h0M864.2 681h0M864.7 678.6h0M865.8 677.2h0M865.2 682h0M865.8 678.3h0M866 680.2h0M866.6 684.1h0M866.4 682.7h0M867.5 680.5h0M867.1 675.9h0M868.3 684.1h0M868.5 678.3h0M867.4 677.4h0M869.3 682.8h0M869 683.3h0M868.7 681.2h0M869.4 684.7h0M869.9 678.8h0M869.3 678.3h0M870.1 676.6h0M870.6 681.5h0M870.5 678h0M871.3 680.3h0M872.1 682.1h0M872 680.4h0M873 682.7h0M872.2 676.1h0M872.4 682.4h0M873.5 684.8h0M873 676.2h0M873.1 679.9h0M874.6 683h0M874.2 677.8h0M874.8 678.8h0M874.8 683.2h0M874.9 685h0M875.1 677.6h0M876.2 685h0M875.6 679.6h0M875.7 685.2h0M876.4 679.6h0M877.4 684.3h0M877.2 685.4h0M877.4 684.8h0M878.1 676.1h0M878 679.4h0M878.3 675.8h0M878.4 679.2h0M879.2 677h0M879.4 683.7h0M880 679.9h0M879.1 680.3h0M880.1 679.2h0M881 676h0M880.4 683.6h0M880.8 676.3h0M881.9 678.1h0M881.7 684.4h0M882.8 681.6h0M882 682.5h0M882.1 678.3h0M883.7 681.7h0M883.7 675.8h0M882.9 680.1h0M884 677.9h0M884 680.2h0M884.6 677.2h0M885.4 682.9h0M885.1 678.6h0M884.8 678.9h0M885.5 682.6h0M885.6 676h0M885.3 680.7h0M887.3 684.8h0M886.5 676.1h0M886.3 680.1h0M887.4 679.2h0M887.8 681.7h0M888 683.4h0M889 678h0M888.7 678.7h0M888.9 677.1h0M889.1 683.6h0M889.6 678.2h0M889.4 684.6h0M890.8 681.3h0M891 676h0M890.4 682.9h0M890.7 677.8h0M890.8 676.8h0M891.9 680.5h0M892.6 679.2h0M891.9 682.3h0M892.7 675.9h0M892.8 678.4h0M892.7 676.8h0M892.8 680.6h0M893.4 677.9h0M894.2 676.6h0M893.8 676.7h0M894.4 675.7h0M894.8 680h0M895.1 675.6h0M895.7 677.4h0M895.6 683.7h0M895.6 680h0M897.1 684.1h0M896.5 676.5h0M897 676.5h0M897.5 682.3h0M897.5 682.9h0M897.6 676.1h0M898.7 683.1h0M898 680.4h0M898.3 679.3h0M899.4 683.2h0M898.9 679.1h0M899.8 683.6h0M900.8 683.6h0M900.3 674.9h0M900.8 678h0M901.7 680.1h0M901.6 675.8h0M901.5 676.4h0M902 682.2h0M902.5 676h0M901.8 678h0M903 677.8h0M902.5 676.5h0M903.3 682.6h0M903.3 679.4h0M904.2 674.5h0M904.3 675.2h0M904.9 679.2h0M905 676.9h0M904.7 679.5h0M905.6 680.2h0M905.6 678.1h0M905.1 679.8h0M906.6 676.1h0M906.9 681.2h0M906.5 675.6h0M907.5 674.9h0M907.1 677.9h0M907 678h0M908.4 674.2h0M908.6 674.6h0M908.7 681.1h0M909.3 674.2h0M909.3 677.3h0M909.8 675h0M910.6 683h0M910.5 681.3h0M909.8 682.8h0M911.1 682.5h0M911.6 675.1h0M911.4 682.3h0M911.5 676.8h0M912.3 675h0M912.5 676.1h0M913.3 674.8h0M912.9 682h0M912.5 675.9h0M913.8 676.4h0M913.2 675.1h0M913.4 682.1h0M914.9 681.7h0M914.3 680.6h0M914.2 678.3h0M915.8 676.6h0M916 678.4h0M915.7 681.5h0M916 682.4h0M916.7 676.9h0M916.9 675.7h0M918 678.5h0M917.2 680.2h0M917.3 674.8h0M918.6 673.6h0M918.7 675.5h0M918.5 682.2h0M919.3 679.2h0M919 673.1h0M918.6 674.4h0M920.2 677h0M920.1 681.2h0M919.7 675.1h0M921.2 673.1h0M920.4 676.2h0M920.5 676.2h0M921.6 678.2h0M922 674.7h0M922 677.2h0M922.4 681.4h0M922.5 674.2h0M922.3 678.7h0M924.1 679.9h0M923.6 675.2h0M923.1 678.6h0M924.7 675.9h0M924.8 676.7h0M925.1 679.4h0M925.2 680.9h0M925 677.5h0M925.4 674.8h0M925.9 679.7h0M925.8 677.6h0M926.9 673.9h0M926.9 678h0M927.3 678.3h0M927.7 674.1h0M928 675.2h0M927.7 680.5h0M928.5 678.9h0M928.5 680h0M929.4 676.6h0M929.4 676.5h0M929.7 673.3h0M929.7 672.7h0M929.8 679.1h0M931.1 679.9h0M931.2 674.7h0M931 676.2h0M932.1 676.9h0M931.5 678h0M932.4 674.2h0M933.2 672.3h0M932.4 674.3h0M933 680.7h0M933.9 675h0M934.1 675h0M933.3 680.3h0M934.7 678.3h0M934.7 680.8h0M934.5 679.6h0M935.6 679.7h0M935.3 678.5h0M935.5 674.7h0M936 677.5h0M935.8 680.1h0M935.9 672.1h0M936.7 680.2h0M937 673.1h0M936.6 672.2h0M938.3 677.4h0M938.3 678.4h0M937.6 677.1h0M938.8 679h0M939.4 679.7h0M938.5 679.5h0M940.4 680.1h0M939.4 673.5h0M939.4 671.9h0M941.2 678.8h0M941 678.9h0M941 674.1h0M941.2 672.4h0M942 673.3h0M941.5 675.3h0M942 673.7h0M942.3 677.8h0M942.4 674.3h0M944.1 675.9h0M943.9 676.9h0M942.9 675.1h0M944.3 678.2h0M944.2 677.6h0M944.4 673.2h0M945.7 672.1h0M945.7 672.8h0M944.7 673.1h0M946.5 679.9h0M945.6 675.6h0M946.2 678.3h0M946.7 675.5h0M946.9 678.5h0M946.8 679.5h0M947.7 673h0M948.2 675.5h0M947.5 676.7h0M948.4 678h0M949.1 678h0M949.1 674.2h0M949.7 674.4h0M950.3 671.7h0M950.3 671.2h0M950.3 673.2h0M951.2 675.3h0M950.6 678.7h0M951.3 674.9h0M951.6 677.5h0M951.9 676.5h0M952.3 673.7h0M952.1 678.2h0M952.7 677.3h0M953 674.6h0M953.7 675.8h0M953 674.8h0M954.8 672.8h0M953.9 673.3h0M954.5 678.1h0M954.8 672h0M954.9 673.5h0M955.2 672h0M955.9 672.2h0M956.7 677h0M955.6 679h0M956.5 673.9h0M957.6 677.5h0M957.3 674.3h0M957.5 676h0M957.4 672.3h0M957.8 670.8h0M958.7 677.3h0M959 674.8h0M959 674.5h0M959.3 675.6h0M959.6 676.8h0M960.2 674.1h0M960.7 676.8h0M960.5 672.3h0M960.9 678h0M961.8 676.3h0M961.9 676.2h0M961.7 674.2h0M962.2 675.6h0M961.9 673.8h0M962.7 676.4h0M963.5 672.3h0M963.2 674.1h0M963.4 673.7h0M964.4 678.1h0M963.8 675.7h0M964.5 673.4h0M965.1 678.4h0M964.5 674.7h0M964.7 676.8h0M966.5 674.5h0M965.5 674.9h0M966 676.2h0M966.9 675.4h0M967.3 674.4h0M966.8 678.1h0M967.5 675.8h0M967.7 676.4h0M967.3 678.3h0M968.5 670.3h0M968.4 673.2h0M968.1 673.4h0M969.5 675.7h0M969.4 672h0M969.3 676.1h0M971 674.2h0M970.2 676.6h0M970.4 671.5h0M971 676.3h0M971.8 675.1h0M971.4 674.5h0M972 677.8h0M972.1 675.1h0M972.7 676.6h0M973.2 672h0M973.3 670.6h0M973.6 672.6h0M974.5 671.8h0M974 671.6h0M974 671.1h0M974.4 675.6h0M974.7 671.5h0M974.8 673.5h0M975.8 674.8h0M976.1 672.5h0M976.4 676.6h0M976.3 676.3h0M977.3 676h0M976.4 676.4h0M977.9 669.4h0M977.1 677.3h0M977.9 671.4h0M978.1 670.4h0M978.3 675.8h0M978.4 670.5h0M980 675.8h0M979.1 676.7h0M979.6 675.8h0M980.6 676.6h0M980.7 676.2h0M980 674.9h0M981.3 675.3h0M981.2 676.5h0M981.4 671.3h0M981.9 670.2h0M982.2 669.5h0M982.2 670.2h0M983.1 673.1h0M983.1 676.2h0M982.5 676h0M984 673.6h0M984.2 675.9h0M983.8 672.4h0M985.5 669.5h0M985.1 674.2h0M984.3 673.9h0M986 676.6h0M985.6 677h0M985.8 672.8h0M987.2 669h0M987 673.9h0M986.5 675.9h0M987.4 672.6h0M987.6 675.1h0M987.3 672.3h0M988.4 673.2h0M988.9 671h0M988.9 672h0M989.4 670.8h0M989.4 676.7h0M989.6 675.1h0M990.1 671.1h0M990.1 673.4h0M990.5 675h0M990.6 674.4h0M991.7 673h0M990.7 670.9h0M991.5 670h0M992.6 673.4h0M992.3 674.9h0M993.5 673.4h0M993.1 673.5h0M993.2 673.3h0M994.1 670h0M994.1 672.1h0M994.2 669.1h0M994.4 668.5h0M995.1 675.8h0M995 671.3h0M996.1 674.7h0M995.8 670.3h0M995.5 671.6h0M996.4 671.7h0M996.8 675.8h0M996.1 672.8h0M996.9 669h0M997.9 672.8h0M998 671.7h0M997.8 671.2h0M998.5 675.7h0M999 671.9h0M999.2 668.8h0M999.5 669.7h0M998.9 668.1h0M999.6 673.5h0M999.7 675.8h0M999.7 675h0M1000.7 667.9h0M1001.4 669.8h0M1001.4 669.3h0M1001.5 674h0M1002.3 674.7h0M1002.3 668.4h0M1003.1 673.4h0M1002.9 675.2h0M1002.6 675.5h0M1004.1 667.6h0M1003.2 672.9h0M1004.2 668.2h0M1004.5 673.4h0M1004.3 674.5h0M1004.7 668h0M1005.4 672.1h0M1005.5 672.9h0M1005.2 673.9h0M1006.3 672.5h0M1006.7 670.7h0M1006.4 673.7h0M1007.9 673.6h0M1007.5 669.6h0M1006.9 675.1h0M1008.5 673.8h0M1008.1 672h0M1008.9 673.9h0M1009.3 669.6h0M1009.1 674.2h0M1009.1 672.6h0M1010.2 674.2h0M1010.5 669.3h0M1009.5 669.1h0M1010.9 671.6h0M1011.4 674h0M1010.5 673.6h0M1012.3 673.8h0M1012 669h0M1012.3 673.3h0M1013 674.1h0M1012.6 667.4h0M1012.9 673.1h0M1013.3 672.7h0M1014.2 668.5h0M1013.8 672.1h0M1014.6 668.2h0M1014.3 672.6h0M1014.9 670.2h0M1015 672.9h0M1015.8 668.4h0M1015.6 673.6h0M1016.9 670.6h0M1016.4 671.1h0M1016 667.9h0M1016.9 671.9h0M1017.1 670.8h0M1017.2 670.4h0M1017.8 666.6h0M1018.8 669.2h0M1017.7 671.3h0M1019.4 667.4h0M1019.2 668.9h0M1019.1 666.3h0M1019.4 673.9h0M1020.4 669.9h0M1020.1 668.2h0M1021.2 669.4h0M1021.4 672.1h0M1021.3 673.6h0M1021.5 666.2h0M1021.4 667.3h0M1021.3 666.3h0M1022.8 672.7h0M1022.6 673.3h0M1023.2 666.3h0M1023.7 668.9h0M1023.1 673.3h0M1023.3 670.2h0M1024.7 673.2h0M1024.7 668.8h0M1024.4 666.9h0M1026 673.4h0M1025.1 665.9h0M1025.1 668.4h0M1026.8 672.6h0M1026.7 665.9h0M1026.6 671.1h0M1027.4 673.1h0M1026.7 666.6h0M1027.5 672.8h0M1028.3 667.7h0M1028.2 671.2h0M1027.6 667.9h0M1028.7 666.2h0M1029 666.6h0M1028.7 666.4h0M1030.1 665.3h0M1030.2 666.7h0M1029.3 672.4h0M1030.5 672.3h0M1031.2 672h0M1030.4 668.6h0M1031.2 672.2h0M1032.1 669.9h0M1031.6 667.7h0M1033 668.6h0M1032.8 666h0M1032.3 665.4h0M1033.8 669.1h0M1033.1 671.6h0M1033.2 668h0M1034 666.9h0M1034.8 667.4h0M1034 668.6h0M1035.1 671.6h0M1034.8 672.2h0M1034.8 671.6h0M1036.4 666.2h0M1036.2 666.8h0M1035.9 666.2h0M1036.9 672h0M1037.7 671.5h0M1036.6 666.6h0M1038.5 664.5h0M1038.3 666.3h0M1038.6 664.2h0M1039.3 666.3h0M1038.5 663.7h0M1039.3 667.7h0M1039.4 666.6h0M1040.3 665h0M1039.9 664.4h0M1040.3 668.8h0M1041 664.5h0M1040.2 663.6h0M1041.7 666.4h0M1041.3 664.2h0M1041.7 668h0M1042.9 666.7h0M1042.1 662.7h0M1042.8 665.3h0M1043.7 662.3h0M1043.8 664.4h0M1043.8 668.4h0M1044.3 661.6h0M1044.8 665.1h0M1044.7 663.5h0M1044.8 667.4h0M1045 662.3h0M1045 665.6h0M1045.5 664.4h0M1046 664.3h0M1045.6 665.8h0M1047.4 666.3h0M1046.8 665.2h0M1046.9 665.5h0M1047.4 665.7h0M1048.4 662.9h0M1047.9 663.2h0M1048.8 658.7h0M1049.4 660.3h0M1048.4 659.4h0M1049.4 664.1h0M1049.1 658.7h0M1049.9 659.4h0M1050 661.8h0M1050.7 661.2h0M1050.8 658.1h0M1051.9 662h0M1051 657.6h0M1051.5 660.4h0M1052.1 657h0M1052.3 657.1h0M1052.5 662.5h0M1052.9 659.7h0M1053.6 656.7h0M1053.7 662.4h0M1054.1 657.9h0M1054.6 658.7h0M1054.1 661.8h0M1055.4 656.7h0M1054.8 656.7h0M1055 661.4h0M1056.4 660.3h0M1056.4 659.8h0M1055.5 657.4h0M1057.4 659.8h0M1056.6 656h0M1057.1 655.6h0M1057.8 652.8h0M1057.7 656h0M1057.2 653.3h0M1059.3 657.4h0M1059.2 656.3h0M1059.1 658.2h0M1060.1 651.3h0M1059.8 653h0M1059.8 653h0M1060.6 657.2h0M1060.6 652.3h0M1060.5 653.6h0M1061.9 652.4h0M1061.2 655h0M1060.9 654.6h0M1062.8 654h0M1062 653.6h0M1062.3 651.3h0M1062.7 651.1h0M1063 653.1h0M1062.9 652h0M1063.6 654.1h0M1064.5 654.6h0M1064.2 654.8h0M1064.6 655.2h0M1065 654h0M1065.1 653.5h0M1065.7 651.8h0M1065.6 653.7h0M1065.8 654.3h0M1066.2 652.5h0M1067.2 651.7h0M1066.9 653.5h0M1067.4 657h0M1067.5 655.5h0M1067.3 650.4h0M1069 653h0M1068.1 652.6h0M1068.5 655.1h0M1069 651.4h0M1070.1 655.1h0M1069.1 652.2h0M1070.2 654.6h0M1070.5 655.8h0M1070.8 653.5h0M1071.6 655h0M1071.6 653.1h0M1071.6 654.8h0M1072.7 650.6h0M1072.6 649.7h0M1072.5 653.8h0M1073.1 656.4h0M1073.2 652.6h0M1073.4 655.8h0M1074.1 652.2h0M1073.9 652.8h0M1074.3 651.6h0M1074.8 653.4h0M1074.8 651.8h0M1075.2 655.5h0M1075.8 652.6h0M1075.4 651.6h0M1075.4 653.5h0M1076.8 650h0M1077.2 651.7h0M1077.1 655.3h0M1078.2 650.8h0M1077.5 655.7h0M1077 649.7h0M1078.6 652.8h0M1079 654.7h0M1078.5 656.3h0M1079.4 652.8h0M1079.6 651.9h0M1079.2 653.4h0M1080.1 655.8h0M1080.5 652.8h0M1079.8 651.8h0M1081.1 653h0M1081.3 655.2h0M1081.8 652.5h0M1082 653.4h0M1082.7 651.4h0M1082.1 654.7h0M1082.6 651.2h0M1083.6 654.7h0M1083 649.8h0M1084.4 653.7h0M1084.3 655.8h0M1084.4 651.9h0M1084.4 650.9h0M1084.8 652.4h0M1084.4 650.2h0M1085.9 653.1h0M1085.5 655.8h0M1085.9 649.2h0M1086.5 654.3h0M1086.4 653.6h0M1086 651h0M1087.9 652.9h0M1087.7 650.2h0M1087.5 652.7h0M1088.1 653.3h0M1088.4 655.7h0M1088.5 651.6h0M1088.8 649.9h0M1089.6 649.5h0M1088.8 650h0M1090.2 654.4h0M1090.3 654.3h0M1089.7 648.9h0M1091.4 651h0M1091.4 651.2h0M1090.7 650.6h0M1091.5 654.9h0M1092.1 651.1h0M1091.9 651.4h0M1092.4 654.8h0M1093 655.2h0M1092.8 652.9h0M1093.5 649h0M1094.3 654.5h0M1093.6 654.8h0M1095.1 650.7h0M1094.8 655.2h0M1094.7 655.1h0M1095.3 651.3h0M1095.9 650.1h0M1095.4 654.6h0M1096.5 654h0M1096.2 649.8h0M1096.3 649.9h0M1098 650.5h0M1097.5 649.4h0M1097.4 651.2h0M1098.2 649h0M1097.8 654.1h0M1098.1 650.2h0M1098.8 650.4h0M1098.9 648.8h0M1099.4 650.8h0M1099.7 653.2h0M1099.6 650.3h0M1100.5 649.4h0M1100.9 654.1h0M1101.4 649.6h0M1100.8 653.3h0M1101.8 654.9h0M1101.5 654.8h0M1101.9 650h0M1102.7 649.3h0M1103 650.2h0M1103.3 652.4h0M1103.5 650h0M1103.8 649.8h0M1104.1 649.2h0M1104.6 652h0M1104.3 653.5h0M1104.5 652.8h0M1105.6 650.4h0M1105.4 648.9h0M1105.1 654h0M1106.2 652.7h0M1105.9 652.1h0M1106.2 651.7h0M1107.1 648.7h0M1107.1 649.8h0M1106.9 653.1h0M1107.9 651h0M1108.7 653.4h0M1108.7 654h0M1108.7 650.1h0M1108.5 652.8h0M1109.3 650.6h0M1109.9 652.6h0M1110.2 649.9h0M1110.4 650.6h0M1111.1 649.4h0M1110.4 654.2h0M1111.2 652.9h0M1111.2 648.4h0M1111.4 649.5h0M1111.6 650.7h0M1112.1 650.2h0M1112.9 649.3h0M1113.1 651.9h0M1113.9 649.8h0M1113.5 652.6h0M1113.4 648.1h0M1114.9 653.2h0M1114.2 648.4h0M1114.9 652.1h0M1114.9 649.7h0M1114.9 653.3h0M1115.1 654.1h0M1116.6 648.6h0M1116.5 650.6h0M1116.6 653.5h0M1116.9 648.6h0M1117.7 650.8h0M1117.7 652.6h0M1118.4 653.4h0M1118.3 651h0M1117.6 652.6h0M1118.9 651.3h0M1119.5 648.8h0M1119.3 648.2h0M1120.1 653.2h0M1119.6 651.5h0M1120.5 652.1h0M1120.9 649.5h0M1120.3 650.2h0M1120.7 649.2h0M1121.5 648.8h0M1121.9 652.3h0M1121.4 649.4h0M1122.6 650.8h0M1123.1 650.1h0M1122.4 653.6h0M1123.1 651.5h0M1123.3 653.1h0M1123.6 652.8h0M1124 652.1h0M1124.5 650.8h0M1124.7 653.2h0M1124.8 649.6h0M1125.1 649.1h0M1124.8 649.6h0M1125.8 652.3h0M1126.1 648.5h0M1126 650.8h0M1126.9 648.8h0M1126.6 647.8h0M1127.7 652.6h0M1127.5 652.3h0M1128.6 651.3h0M1127.5 650.9h0M1128.8 648.9h0M1129 647.7h0M1129.4 651.8h0M1130 653.7h0M1130 649.3h0M1129.5 648.5h0M1130.1 652.6h0M1131.1 649.5h0M1130.3 651.7h0M1132 653.6h0M1131.2 652.7h0M1132 652.4h0M1132.3 648.7h0M1132.9 649.6h0M1132.3 651.1h0M1133.2 652.9h0M1133.1 647.8h0M1133.5 651.6h0M1134.7 652.1h0M1134.8 653.6h0M1134.3 650.7h0M1134.8 649.4h0M1135.3 648h0M1135.4 648.5h0M1136 653.7h0M1135.6 647.7h0M1136 648.7h0M1137.3 647.4h0M1137.4 652.9h0M1137.3 650.2h0M1137.6 651.6h0M1137.9 650.1h0M1137.7 650.2h0M1139 652.7h0M1139.3 648.4h0M1138.6 650.2h0M1139.8 649.6h0M1139.3 647.9h0M1139.5 650.3h0M1141.2 653.1h0M1141 653.6h0M1141.2 651.3h0M1141.9 647.7h0M1141.7 651.2h0M1141.3 650.9h0M1142.9 650.3h0M1142.6 649.2h0M1142.2 652.9h0M1142.7 648.4h0M1143.5 650.1h0M1142.8 651.5h0M1144 650.9h0M1144.1 650.6h0M1144.3 649.7h0M1144.6 648.3h0M1145.6 650.7h0M1144.6 652.7h0M1145.7 647.7h0M1146 648.7h0M1146 650.7h0M1146.6 650.8h0M1146.4 650.4h0M1147 647.6h0M1147.7 647.6h0M1147.7 652.6h0M1147.9 651.6h0M1149 647.8h0M1149.3 651.7h0M1148.2 652.3h0M1149.5 648.1h0M1150.2 650.6h0M1149.9 647.9h0M1150.8 647.4h0M1150.2 649.4h0M1149.9 650.8h0M1151.1 648.9h0M1151.6 649.7h0M1151.9 650.9h0M1152.7 650.5h0M1152.8 652.5h0M1151.9 651.7h0M1153 651.8h0M1153.4 652.2h0M1152.7 649.3h0M1154.4 652.9h0M1154.4 647.2h0M1154.2 647.5h0M1155.1 652h0M1154.5 652.7h0M1155.2 648.5h0M1155.5 649.7h0M1156.3 650.5h0M1155.4 647h0M1156.3 651.9h0M1156.4 650.3h0M1156.5 651.2h0M1157.6 647.7h0M1158.2 650.2h0M1157.9 651.9h0M1159.1 646.8h0M1158.4 647.7h0M1158.6 652.3h0M1159.9 647h0M1159.1 651.9h0M1159.7 649.2h0M1160.4 647.7h0M1160.8 649.2h0M1160.8 650.6h0M1160.8 648.7h0M1161 652.3h0M1161.4 647h0M1161.8 648.9h0M1162.2 650.3h0M1162.1 648.9h0M1162.5 650.3h0M1162.9 646.8h0M1163.1 652.8h0M1163.5 647.5h0M1164.2 648.3h0M1163.7 649.7h0M1164.6 650.1h0M1164.9 652.6h0M1165.5 646.8h0M1165.9 651.4h0M1166.2 651.4h0M1166 650.5h0M1166.5 648.3h0M1167.1 652h0M1167.2 650.8h0M1167.4 651.3h0M1167.9 649.7h0M1167.8 648.7h0M1168.6 649h0M1168 648.6h0M1168.3 652.6h0M1169.4 648.7h0M1169.1 647.9h0M1169.2 647.3h0M1169.7 651.8h0M1170.2 649.2h0M1170.4 648.3h0M1170.8 646.8h0M1171 648.3h0M1171.5 649.8h0M1172.6 648.5h0M1172.6 650h0M1171.6 647.5h0M1173.1 652.5h0M1172.8 651.1h0M1172.9 651.7h0M1173.4 649.3h0M1174.4 648h0M1173.6 646.4h0M1174.4 647.9h0M1175 647.6h0M1174.7 647.5h0M1175.8 651.6h0M1175.9 647.5h0M1176 652.2h0M1176.7 646.7h0M1177 651.6h0M1176.4 647.1h0M1177.1 649.5h0M1178 650.1h0M1178 647.5h0M1178.2 650.8h0M1178.6 648.7h0M1178.6 648.3h0M1178.8 648.7h0M1178.8 650h0M1179.1 649.2h0M1180.3 647.7h0M1180.2 646.2h0M1180.7 649.6h0M1181.7 646.4h0M1181.2 650.5h0M1180.9 646.7h0M1181.6 646.9h0M1182.3 646.6h0M1182.4 648.7h0M1182.9 649.6h0M1183 650.1h0M1183 648.1h0M1184.1 647.6h0M1184.1 650.7h0M1184.1 647.9h0M1185 652h0M1184.6 647.7h0M1184.7 651.8h0M1185.2 646h0M1185.6 650h0M1185.9 648.2h0M1187.1 647.3h0M1186.8 646.5h0M1185.9 646.7h0M1186.9 649h0M1187.5 647h0M1187.9 648.1h0M1187.9 647h0M1188.6 651.5h0M1187.9 646.1h0M1189.5 647.3h0M1189.8 648.9h0M1189.4 648h0M1190.5 648.7h0M1189.9 651.4h0M1189.6 650.3h0M1190.5 649.8h0M1190.9 651.1h0M1190.5 649.3h0M1191.8 651.4h0M1192.4 649.6h0M1191.6 647.3h0M1192.5 648.4h0M1192.5 647h0M1193.1 649.7h0M1193.5 651.8h0M1193.4 649.2h0M1193.3 651h0M1195 647.4h0M1194.9 650.7h0M1194.3 647.8h0M1195.5 651.1h0M1195.1 649.9h0M1195.6 648.5h0M1196.5 651.1h0M1196.1 651.1h0M1196.2 650.4h0M1197.7 646.8h0M1197.7 651.7h0M1197.1 645.8h0M1197.7 651.6h0M1197.6 651.2h0M1197.8 650.1h0M1198.6 646.7h0M1199.3 646.2h0M1198.9 651.2h0M1200.3 651h0M1200.6 645.8h0M1199.7 650.4h0M1201.1 645.8h0M1200.9 647h0M1200.8 646.2h0M1201.2 651.6h0M1201.6 650.9h0M1201.3 648.5h0M1202.3 648.2h0M1202.3 649.7h0M1202.3 650h0M1203.6 646.2h0M1203.4 648.5h0M1204.1 647.7h0M1204.2 651.3h0M1205 649.9h0M1204.2 646.6h0M1205.1 645.9h0M1204.9 648.6h0M1205.3 648.9h0M1206.1 645.6h0M1206.5 649.4h0M1206.4 648.8h0M1207.4 651.4h0M1207.6 649.8h0M1207.1 647.4h0M1208 651.3h0M1208 647.8h0M1208 646.3h0M1209.6 645.5h0M1209.1 651h0M1208.7 649.1h0M1209.8 646.9h0M1209.5 646.1h0M1210.3 650.1h0M1211.3 645.7h0M1211 647.3h0M1211 648.7h0M1211.5 651.2h0M1211.1 649.8h0M1212.1 648.4h0M1212.7 651.3h0M1212.3 649.1h0M1212.9 647.6h0M1213.8 647.7h0M1213.5 649h0M1213.7 647.3h0M1214.6 648.5h0M1214.1 649h0M1214.1 650.7h0M1215.3 649.6h0M1215.3 648.1h0M1215 646.1h0M1216.7 648.4h0M1216.2 648.4h0M1216.6 646.7h0M1216.7 650.1h0M1217.1 649.1h0M1217.5 650.6h0M1218.4 645.5h0M1217.9 650.2h0M1218.4 646h0M1218.5 646.7h0M1218.4 647.3h0M1219.3 648.3h0M1219.7 645.7h0M1219.7 651.1h0M1220 647.9h0M1220.7 649.9h0M1221 646.1h0M1220.9 647.3h0M1221.6 646.6h0M1221.4 647.2h0M1221.5 645.3h0M1222.1 648.5h0M1222 646.2h0M1222.8 646.8h0M1223.2 646.5h0M1223.8 645.7h0M1223.6 650.2h0M1223.9 647.6h0M1224.7 648.7h0M1224.1 645.4h0M1225.1 647.2h0M1225.5 646.8h0M1225.1 648.9h0M1226.5 647.1h0M1226 648.5h0M1226.6 646.2h0M1227.6 649.2h0M1226.8 648.9h0M1226.8 645.5h0M1228.2 647.2h0M1227.9 647.9h0M1228.4 649.5h0M1228.2 648.5h0M1228.8 647.7h0M1229.2 647.4h0M1229.7 650.2h0M1229.6 647.9h0M1229.7 649.8h0M1230.8 649.3h0M1230.5 645.2h0M1230.8 648.2h0M1231.8 649.4h0M1231 646.2h0M1231 649.7h0M1231.9 645.4h0M1232.7 648.2h0M1231.9 648.9h0M1233.6 647.7h0M1232.8 648.9h0M1233.2 648.3h0M1234.8 649.6h0M1234.6 645.7h0M1234 647.9h0M1234.5 650.6h0M1234.8 646.4h0M1234.9 646.3h0M1236.4 648.1h0M1236 647.3h0M1235.5 646.6h0M1237.3 649.5h0M1237.3 646.3h0M1236.5 645.1h0M1237.8 647h0M1237.8 647.6h0M1237.9 646.9h0M1239.1 645.9h0M1239.2 648h0M1238.2 646.6h0M1239.6 647.1h0M1239.7 646.6h0M1239.3 649.4h0M1240.2 648.9h0M1240.9 648.2h0M1240.4 650.1h0M1241.3 649.8h0M1240.9 647.2h0M1241.6 645h0M1242.7 645.1h0M1242.4 645.8h0M1242.8 647.9h0M1243.6 647.6h0M1243.4 648.6h0M1243 645.9h0M1244.5 645.5h0M1244.6 645.9h0M1243.6 645.2h0M1245.3 650.1h0M1244.9 648.4h0M1244.7 649.9h0M1246.1 645.5h0M1245.4 648.6h0M1245.4 649.4h0M1246.6 645.9h0M1246.9 646.4h0M1246.9 645.5h0M1248.2 646.5h0M1248.1 645.5h0M1248.1 650.2h0M1248.5 644.8h0M1248.5 648.2h0M1248.3 647.7h0M1249 647.2h0M1249.8 647h0M1249.7 645.2h0M1250.8 645.2h0M1250.9 650.2h0M1250.9 647.5h0M1251 646.5h0M1251.6 647.3h0M1251.8 645h0M1252.2 649.4h0M1252.3 647.6h0M1251.7 645.3h0M1252.8 649.6h0M1253.5 645.8h0M1253.6 644.7h0M1254.1 650h0M1253.8 649.8h0M1254.2 644.7h0M1254.7 647h0M1254.6 648.7h0M1254.5 648.9h0M1255.6 644.8h0M1255.9 645h0M1255.9 648.9h0M1256.8 647h0M1256.1 647.3h0M1256.2 648.1h0M1257.2 647.7h0M1257.4 646.5h0M1257.8 645.3h0M1258.1 649.7h0M1258.3 649.1h0M1258.9 647.1h0M1259 644.9h0M1259.9 645h0M1259.4 647.4h0M1259.8 647h0M1259.9 647.3h0M1260.3 646.4h0M1260.8 646.6h0M1260.8 645h0M1260.9 649.2h0M1262.1 649.3h0M1261.5 649.6h0M1262.1 648.7h0M1263.1 648.1h0M1262.7 648.5h0M1262.6 645.7h0M1263.3 646.5h0M1263.9 645.9h0M1264.4 644.7h0M1264.9 645.5h0M1264.9 648.6h0M1265.1 644.6h0M1265.4 647.6h0M1266.3 644.4h0M1265.8 648.1h0M1267 646.1h0M1267 646.8h0M1267.1 644.2h0M1268 646.5h0M1267.4 644.7h0M1267.2 648.3h0M1268.6 645h0M1268.2 644.9h0M1268 645.4h0M1269.1 649.6h0M1269.9 648.5h0M1269.3 646.9h0M1270.5 649.2h0M1270.5 647.7h0M1269.8 647.6h0M1271.5 648.5h0M1270.6 648.1h0M1270.9 645h0M1272.6 647.8h0M1272.3 644.8h0M1272.4 649.3h0M1273.4 648.2h0M1273.3 648.5h0M1273 646.5h0M1274.2 648.4h0M1274.2 645.7h0M1274.4 647h0M1275.2 644.7h0M1275.3 648.4h0M1274.4 648.7h0M1275.3 645.1h0M1275.5 645.3h0M1275.6 649h0M1276.7 647.9h0M1276.4 648.3h0M1276.9 647.7h0M1277.9 648.5h0M1277.3 644.4h0M1277.6 648.6h0M1278.1 647.2h0M1278.7 648.3h0M1277.7 646.6h0M1278.6 644.5h0M1279.6 646.2h0M1279.3 646.4h0M1279.9 645.1h0M1279.9 648.5h0M1280.2 645.5h0M1280.5 645.4h0M1281.2 646.3h0M1281.2 648.3h0M1281.4 647.6h0M1281.3 648.4h0M1281.5 645.3h0M1283.3 645.6h0M1282.5 648.5h0M1282.9 648.6h0M1283.6 646.2h0M1284.2 646.2h0M1284.3 644.5h0M1285 644.1h0M1284.6 643.2h0M1284.2 648.4h0M1285.4 647.4h0M1285.2 644.9h0M1285 646h0M1286.8 645.5h0M1286.3 647.8h0M1286.9 646.4h0M1286.8 645.9h0M1287.2 647.7h0M1287.1 646.1h0M1288.4 644.3h0M1288.2 646h0M1288.7 645h0M1288.9 647.4h0M1288.6 646.6h0M1289.3 645.1h0M1289.9 645.9h0M1290.5 645.8h0M1290.3 642h0M1290.7 642.3h0M1291.4 646.4h0M1290.5 644.8h0M1291.9 641.6h0M1291.7 645.4h0M1292 642.9h0M1293 642.7h0M1292.8 643.4h0M1293.3 644.7h0M1294 644.6h0M1293.5 646.1h0M1293.9 644.7h0M1294.2 641.6h0M1294.6 645.2h0M1294.9 642.6h0M1295 643.2h0M1295.9 641.3h0M1295.7 641.4h0M1296.1 640.6h0M1296.1 642.4h0M1296.9 645.5h0M1296.8 641.9h0M1297.7 641.3h0M1297 642.6h0M1297.6 641.6h0M1298 642.3h0M1298.7 641.6h0M1298.6 645.1h0M1298.9 644.7h0M1299.2 644.4h0M1299.7 640.9h0M1300.2 642.7h0M1300 643.7h0M1301.1 641.6h0M1300.6 645h0M1300.8 641.6h0M1301.9 641.4h0M1302 640.3h0M1302.1 643.1h0M1302.4 645h0M1302.3 641.3h0M1302.1 642.9h0M1303.8 643.6h0M1303.4 644.3h0M1303 641.6h0M1304.6 645.1h0M1304.6 643.6h0M1304.7 642h0M1305.8 643.8h0M1305.1 642h0M1305.7 641.7h0M1305.8 644.5h0M1306.2 642.6h0M1306.4 644.6h0M1306.7 641.6h0M1306.6 642h0M1307.1 644.3h0M1308.2 642.8h0M1307.9 642.8h0M1307.7 644.3h0M1309.2 644.2h0M1308.5 643.3h0M1309.2 642.4h0M1310.3 644.5h0M1310.1 644h0M1310 644.3h0M1310.3 643.4h0M1310.9 642.9h0M1310.4 640h0M1311.7 644h0M1311.3 640.7h0M1311.3 640.1h0M1312.7 644.7h0M1312.9 641.5h0M1312.7 639.9h0M1313.8 641.2h0M1312.8 642.8h0M1313 641h0M1313.8 641.8h0M1314.4 643.7h0M1313.7 643.8h0M1314.7 640.6h0M1315.4 641.2h0M1315 642.4h0M1315.8 643.6h0M1315.8 643.8h0M1316.5 642.2h0M1316.4 643.4h0M1316.4 642h0M1316.9 639.7h0M1318.1 643.1h0M1318 641.4h0M1317.9 642.4h0M1318.5 643.8h0M1319.4 643.5h0M1319.4 641h0M1320.3 639.6h0M1319.7 639.9h0M1319.6 642.8h0M1320.9 641.6h0M1320.4 640.2h0M1320.5 640.7h0M1321.1 643h0M1321.5 641.4h0M1321.1 642.8h0M1322 640.5h0M1322.5 642.8h0M1323 643h0M1323.8 643.9h0M1323.6 642.8h0M1322.8 640.1h0M1323.6 643.5h0M1324.5 642.3h0M1323.9 640.9h0M1324.7 642.3h0M1325.7 640.6h0M1324.6 639.9h0M1325.8 643.6h0M1326.4 641.3h0M1325.5 639.5h0M1326.5 642.9h0M1326.9 644.1h0M1327.4 643h0M790.8 702.4h0M791.8 662h0M790.6 673h0M792.9 750h0M792.3 757.9h0M792.6 692.3h0M791 664.7h0M790.5 714.4h0M791.7 741.3h0M791.8 654.8h0M792.1 657.8h0M792.1 747.4h0M792.8 672.6h0M792 692.1h0M791.6 663.9h0M792.3 714.4h0M792.3 698.4h0M791.5 655.9h0M791.1 724h0M791.7 721.4h0M792 665.6h0M793 656.9h0M792.5 675.2h0M792.4 740.6h0M792.9 654.2h0M790.6 738.3h0M791 676.4h0M792.1 723.9h0M790.9 751.1h0M790.8 652h0" stroke="#ff9400" stroke-width="3.8" stroke-linecap="round" fill="none"/>
</g>
<rect x="788.5" y="589" width="538" height="430" fill="none" stroke="#111" stroke-width="2.8"/>
<line x1="788.5" y1="1019" x2="802.5" y2="1019" stroke="#111" stroke-width="2.6"/>
<line x1="788.5" y1="986.6" x2="795.5" y2="986.6" stroke="#111" stroke-width="2.6"/>
<line x1="788.5" y1="967.7" x2="795.5" y2="967.7" stroke="#111" stroke-width="2.6"/>
<line x1="788.5" y1="954.3" x2="795.5" y2="954.3" stroke="#111" stroke-width="2.6"/>
<line x1="788.5" y1="943.9" x2="795.5" y2="943.9" stroke="#111" stroke-width="2.6"/>
<line x1="788.5" y1="935.3" x2="795.5" y2="935.3" stroke="#111" stroke-width="2.6"/>
<line x1="788.5" y1="928.2" x2="795.5" y2="928.2" stroke="#111" stroke-width="2.6"/>
<line x1="788.5" y1="921.9" x2="795.5" y2="921.9" stroke="#111" stroke-width="2.6"/>
<line x1="788.5" y1="916.4" x2="795.5" y2="916.4" stroke="#111" stroke-width="2.6"/>
<line x1="788.5" y1="911.5" x2="802.5" y2="911.5" stroke="#111" stroke-width="2.6"/>
<line x1="788.5" y1="879.1" x2="795.5" y2="879.1" stroke="#111" stroke-width="2.6"/>
<line x1="788.5" y1="860.2" x2="795.5" y2="860.2" stroke="#111" stroke-width="2.6"/>
<line x1="788.5" y1="846.8" x2="795.5" y2="846.8" stroke="#111" stroke-width="2.6"/>
<line x1="788.5" y1="836.4" x2="795.5" y2="836.4" stroke="#111" stroke-width="2.6"/>
<line x1="788.5" y1="827.8" x2="795.5" y2="827.8" stroke="#111" stroke-width="2.6"/>
<line x1="788.5" y1="820.7" x2="795.5" y2="820.7" stroke="#111" stroke-width="2.6"/>
<line x1="788.5" y1="814.4" x2="795.5" y2="814.4" stroke="#111" stroke-width="2.6"/>
<line x1="788.5" y1="808.9" x2="795.5" y2="808.9" stroke="#111" stroke-width="2.6"/>
<line x1="788.5" y1="804" x2="802.5" y2="804" stroke="#111" stroke-width="2.6"/>
<line x1="788.5" y1="771.6" x2="795.5" y2="771.6" stroke="#111" stroke-width="2.6"/>
<line x1="788.5" y1="752.7" x2="795.5" y2="752.7" stroke="#111" stroke-width="2.6"/>
<line x1="788.5" y1="739.3" x2="795.5" y2="739.3" stroke="#111" stroke-width="2.6"/>
<line x1="788.5" y1="728.9" x2="795.5" y2="728.9" stroke="#111" stroke-width="2.6"/>
<line x1="788.5" y1="720.3" x2="795.5" y2="720.3" stroke="#111" stroke-width="2.6"/>
<line x1="788.5" y1="713.2" x2="795.5" y2="713.2" stroke="#111" stroke-width="2.6"/>
<line x1="788.5" y1="706.9" x2="795.5" y2="706.9" stroke="#111" stroke-width="2.6"/>
<line x1="788.5" y1="701.4" x2="795.5" y2="701.4" stroke="#111" stroke-width="2.6"/>
<line x1="788.5" y1="696.5" x2="802.5" y2="696.5" stroke="#111" stroke-width="2.6"/>
<line x1="788.5" y1="664.1" x2="795.5" y2="664.1" stroke="#111" stroke-width="2.6"/>
<line x1="788.5" y1="645.2" x2="795.5" y2="645.2" stroke="#111" stroke-width="2.6"/>
<line x1="788.5" y1="631.8" x2="795.5" y2="631.8" stroke="#111" stroke-width="2.6"/>
<line x1="788.5" y1="621.4" x2="795.5" y2="621.4" stroke="#111" stroke-width="2.6"/>
<line x1="788.5" y1="612.8" x2="795.5" y2="612.8" stroke="#111" stroke-width="2.6"/>
<line x1="788.5" y1="605.7" x2="795.5" y2="605.7" stroke="#111" stroke-width="2.6"/>
<line x1="788.5" y1="599.4" x2="795.5" y2="599.4" stroke="#111" stroke-width="2.6"/>
<line x1="788.5" y1="593.9" x2="795.5" y2="593.9" stroke="#111" stroke-width="2.6"/>
<line x1="788.5" y1="589" x2="802.5" y2="589" stroke="#111" stroke-width="2.6"/>
<line x1="788.5" y1="1019" x2="788.5" y2="1006" stroke="#111" stroke-width="2.6"/>
<line x1="842.3" y1="1019" x2="842.3" y2="1012" stroke="#111" stroke-width="2.6"/>
<line x1="896.1" y1="1019" x2="896.1" y2="1012" stroke="#111" stroke-width="2.6"/>
<line x1="949.9" y1="1019" x2="949.9" y2="1012" stroke="#111" stroke-width="2.6"/>
<line x1="1003.7" y1="1019" x2="1003.7" y2="1012" stroke="#111" stroke-width="2.6"/>
<line x1="1057.5" y1="1019" x2="1057.5" y2="1006" stroke="#111" stroke-width="2.6"/>
<line x1="1111.3" y1="1019" x2="1111.3" y2="1012" stroke="#111" stroke-width="2.6"/>
<line x1="1165.1" y1="1019" x2="1165.1" y2="1012" stroke="#111" stroke-width="2.6"/>
<line x1="1218.9" y1="1019" x2="1218.9" y2="1012" stroke="#111" stroke-width="2.6"/>
<line x1="1272.7" y1="1019" x2="1272.7" y2="1012" stroke="#111" stroke-width="2.6"/>
<line x1="1326.5" y1="1019" x2="1326.5" y2="1006" stroke="#111" stroke-width="2.6"/>
<text x="780.5" y="598.3" font-size="26" text-anchor="end">10<tspan font-size="18.5" dy="-12">2</tspan></text>
<text x="780.5" y="705.8" font-size="26" text-anchor="end">10<tspan font-size="18.5" dy="-12">1</tspan></text>
<text x="778.5" y="920.8" font-size="26" text-anchor="end">10<tspan font-size="18.5" dy="-12">&#8722;1</tspan></text>
<text x="778.5" y="1028.3" font-size="26" text-anchor="end">10<tspan font-size="18.5" dy="-12">&#8722;2</tspan></text>
<text x="780.5" y="812.8" font-size="26" text-anchor="end">1</text>
<text x="788.5" y="1048.5" font-size="26" text-anchor="middle">0</text>
<text x="1057.5" y="1048.5" font-size="26" text-anchor="middle">0.05</text>
<text x="1326.5" y="1048.5" font-size="26" text-anchor="middle">0.10</text>
<text x="1057.5" y="1084" font-size="26" text-anchor="middle">Electron energy / eV</text>
<text transform="translate(726,803) rotate(-90)" font-size="26" text-anchor="middle">Scattering rate / THz</text>
<text x="676" y="597" font-size="41" text-anchor="start" font-weight="bold">d</text>
<circle cx="967.2" cy="768.3" r="9.2" fill="#4490c6"/>
<text x="993.5" y="777.1" font-size="26" text-anchor="start">Electron-Phonon</text>
<circle cx="967.2" cy="799.4" r="9.2" fill="#e8352a"/>
<text x="993.5" y="808.2" font-size="26" text-anchor="start">Electron-Ionized impurity</text>
<circle cx="967.2" cy="830.3" r="9.2" fill="#ff9400"/>
<text x="993.5" y="839.1" font-size="26" text-anchor="start">Total</text>
</svg></body></html>
